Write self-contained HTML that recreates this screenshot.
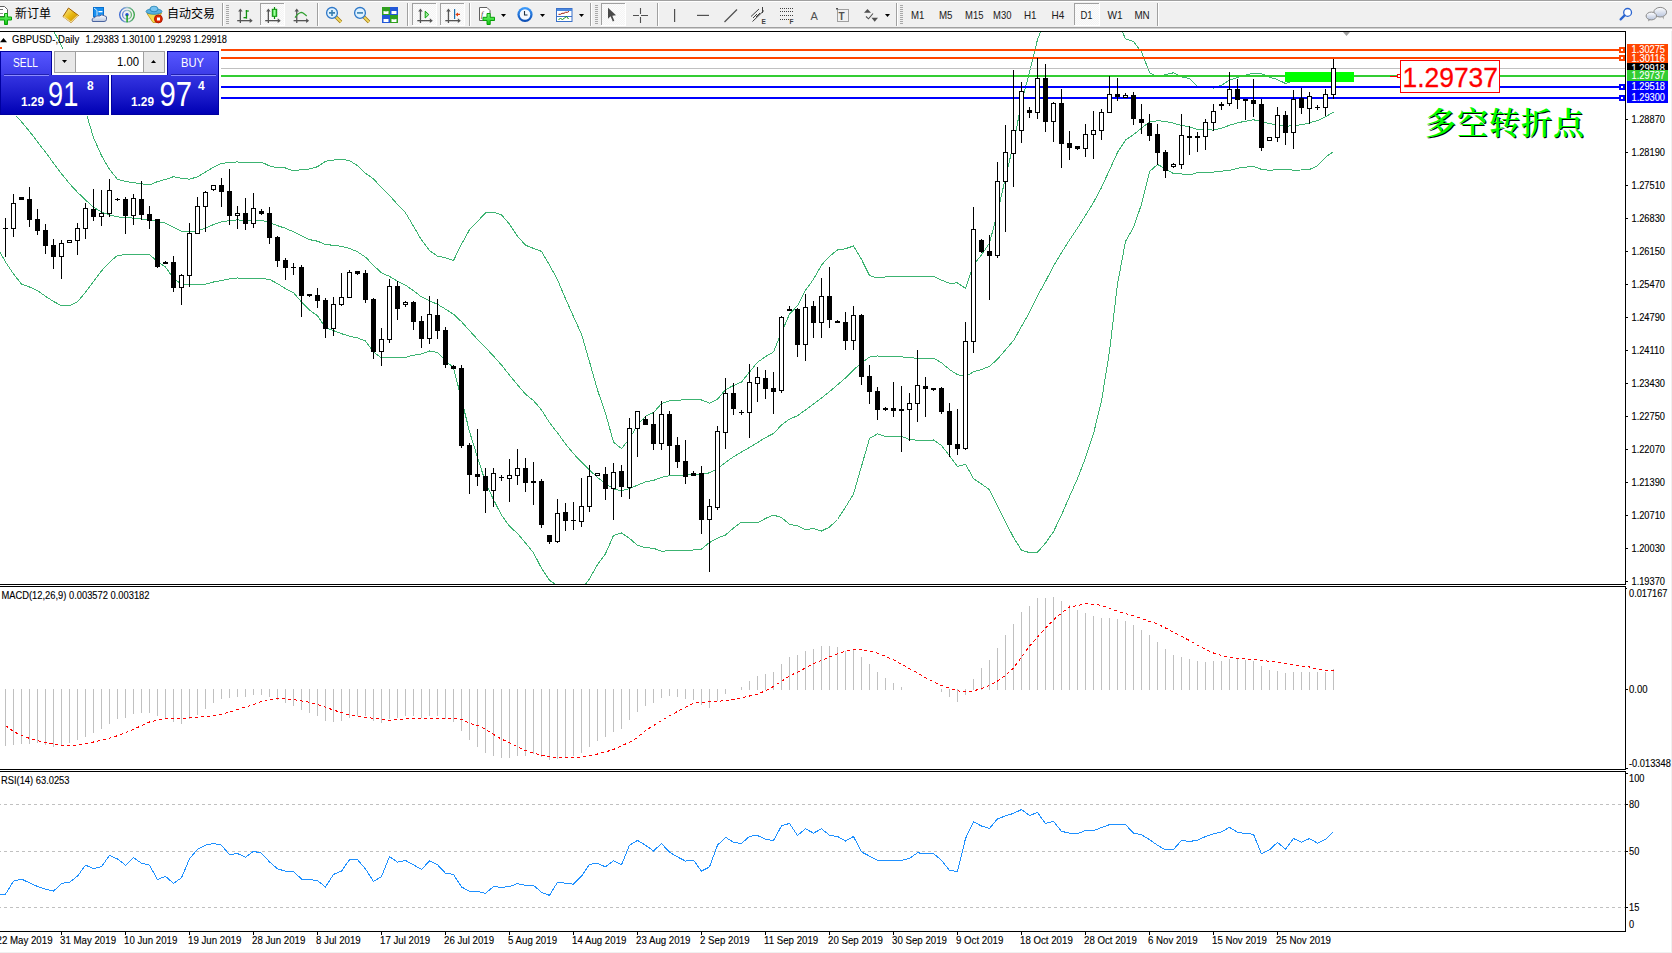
<!DOCTYPE html><html><head><meta charset="utf-8"><title>GBPUSD Daily</title><style>html,body{margin:0;padding:0;background:#fff;}body{width:1672px;height:953px;overflow:hidden;position:relative;}svg{position:absolute;left:0;top:0;display:block}</style></head><body>
<svg width="1672" height="953" viewBox="0 0 1672 953">
<defs>
<clipPath id="cmain"><rect x="0" y="32" width="1625" height="552"/></clipPath>
<clipPath id="cmacd"><rect x="0" y="587" width="1625" height="182"/></clipPath>
<clipPath id="crsi"><rect x="0" y="772" width="1625" height="159"/></clipPath>
</defs>
<rect width="1672" height="953" fill="#ffffff"/>
<g clip-path="url(#cmain)">
<polyline points="-2.5,-86.0 5.5,-70.0 13.5,-54.0 21.5,-38.0 29.5,-22.0 37.5,-6.0 45.5,10.0 53.5,31.0 61.5,45.6 69.5,66.4 77.5,88.7 85.5,111.0 93.5,137.5 101.5,155.7 109.5,169.3 117.5,179.5 125.5,181.4 133.5,182.7 141.5,183.8 149.5,185.0 157.5,181.6 165.5,179.4 173.5,176.7 181.5,178.2 189.5,179.2 197.5,176.8 205.5,172.1 213.5,167.1 221.5,163.3 229.5,162.6 237.5,161.9 245.5,162.9 253.5,162.2 261.5,162.2 269.5,165.9 277.5,167.8 285.5,168.0 293.5,170.8 301.5,169.6 309.5,169.0 317.5,166.7 325.5,161.3 333.5,160.1 341.5,159.2 349.5,160.6 357.5,165.6 365.5,173.2 373.5,178.9 381.5,187.7 389.5,195.4 397.5,204.5 405.5,212.8 413.5,226.2 421.5,240.0 429.5,250.6 437.5,256.2 445.5,257.7 453.5,260.5 461.5,244.2 469.5,229.7 477.5,221.5 485.5,212.8 493.5,212.3 501.5,214.8 509.5,224.1 517.5,236.3 525.5,245.2 533.5,248.4 541.5,251.4 549.5,265.0 557.5,279.8 565.5,298.7 573.5,316.6 581.5,334.1 589.5,361.7 597.5,390.0 605.5,413.3 613.5,442.1 621.5,448.6 629.5,438.6 637.5,425.1 645.5,416.2 653.5,412.6 661.5,403.5 669.5,400.7 677.5,400.1 685.5,399.9 693.5,399.6 701.5,400.0 709.5,403.1 717.5,399.3 725.5,389.7 733.5,385.5 741.5,382.0 749.5,372.0 757.5,362.2 765.5,356.7 773.5,351.9 781.5,332.6 789.5,314.0 797.5,305.7 805.5,290.2 813.5,279.3 821.5,265.0 829.5,256.3 837.5,250.0 845.5,248.7 853.5,246.0 861.5,259.3 869.5,275.6 877.5,278.0 885.5,277.0 893.5,276.8 901.5,277.0 909.5,276.2 917.5,276.1 925.5,276.1 933.5,276.2 941.5,280.1 949.5,283.3 957.5,282.9 965.5,288.5 973.5,265.0 981.5,254.9 989.5,243.0 997.5,212.7 1005.5,177.7 1013.5,143.8 1021.5,102.5 1029.5,72.2 1037.5,39.5 1045.5,19.8 1053.5,0.5 1061.5,-9.4 1069.5,-16.6 1077.5,-22.4 1085.5,-27.0 1093.5,-28.9 1101.5,-25.9 1109.5,-11.4 1117.5,20.8 1125.5,38.8 1133.5,41.6 1141.5,51.9 1149.5,72.6 1157.5,76.8 1165.5,74.5 1173.5,72.8 1181.5,77.0 1189.5,78.4 1197.5,86.7 1205.5,86.8 1213.5,88.1 1221.5,85.3 1229.5,80.1 1237.5,77.5 1245.5,75.1 1253.5,73.2 1261.5,73.7 1269.5,77.1 1277.5,79.6 1285.5,83.5 1293.5,81.0 1301.5,79.6 1309.5,76.2 1317.5,75.5 1325.5,76.4 1333.5,72.4" fill="none" stroke="#3cb371" stroke-width="1" shape-rendering="crispEdges"/>
<polyline points="-2.5,97.0 5.5,105.0 13.5,113.1 21.5,121.8 29.5,131.4 37.5,141.7 45.5,152.3 53.5,163.0 61.5,173.7 69.5,183.6 77.5,192.3 85.5,200.0 93.5,207.2 101.5,212.0 109.5,214.9 117.5,216.9 125.5,217.5 133.5,218.1 141.5,219.1 149.5,220.1 157.5,221.5 165.5,223.2 173.5,227.4 181.5,231.2 189.5,231.9 197.5,230.8 205.5,228.1 213.5,224.6 221.5,221.9 229.5,220.7 237.5,219.9 245.5,220.7 253.5,220.3 261.5,220.3 269.5,222.7 277.5,225.7 285.5,228.3 293.5,231.8 301.5,235.8 309.5,239.6 317.5,241.2 325.5,244.5 333.5,245.3 341.5,246.4 349.5,248.4 357.5,251.8 365.5,257.1 373.5,265.4 381.5,272.8 389.5,276.4 397.5,281.1 405.5,285.1 413.5,290.7 421.5,296.9 429.5,300.8 437.5,304.3 445.5,309.1 453.5,314.2 461.5,321.7 469.5,330.6 477.5,339.4 485.5,347.6 493.5,356.0 501.5,365.0 509.5,375.1 517.5,384.9 525.5,394.1 533.5,400.6 541.5,409.9 549.5,422.6 557.5,432.9 565.5,443.8 573.5,453.7 581.5,462.1 589.5,470.2 597.5,477.4 605.5,483.6 613.5,488.8 621.5,490.8 629.5,488.5 637.5,485.2 645.5,481.9 653.5,480.4 661.5,477.3 669.5,475.8 677.5,475.4 685.5,475.1 693.5,474.8 701.5,474.6 709.5,472.8 717.5,468.7 725.5,462.4 733.5,456.8 741.5,452.1 749.5,447.4 757.5,442.6 765.5,437.6 773.5,433.5 781.5,425.1 789.5,419.1 797.5,415.8 805.5,409.9 813.5,403.9 821.5,398.0 829.5,391.7 837.5,384.8 845.5,377.9 853.5,369.9 861.5,362.8 869.5,357.1 877.5,355.9 885.5,356.8 893.5,356.9 901.5,356.8 909.5,357.8 917.5,358.2 925.5,358.2 933.5,358.1 941.5,362.8 949.5,369.5 957.5,374.7 965.5,376.4 973.5,371.8 981.5,369.5 989.5,366.3 997.5,359.2 1005.5,349.9 1013.5,340.6 1021.5,326.4 1029.5,312.4 1037.5,295.9 1045.5,281.4 1053.5,266.1 1061.5,252.8 1069.5,239.9 1077.5,228.1 1085.5,215.4 1093.5,202.4 1101.5,187.5 1109.5,170.0 1117.5,152.4 1125.5,140.1 1133.5,134.6 1141.5,128.1 1149.5,122.1 1157.5,120.7 1165.5,121.5 1173.5,123.2 1181.5,125.5 1189.5,126.7 1197.5,129.7 1205.5,129.7 1213.5,130.1 1221.5,128.2 1229.5,125.3 1237.5,122.8 1245.5,121.2 1253.5,119.8 1261.5,121.5 1269.5,123.7 1277.5,124.7 1285.5,126.5 1293.5,125.5 1301.5,124.8 1309.5,122.8 1317.5,120.6 1325.5,116.8 1333.5,112.0" fill="none" stroke="#3cb371" stroke-width="1" shape-rendering="crispEdges"/>
<polyline points="-2.5,247.9 5.5,261.9 13.5,273.9 21.5,284.0 29.5,287.0 37.5,290.5 45.5,296.3 53.5,301.4 61.5,305.7 69.5,305.7 77.5,301.8 85.5,292.2 93.5,281.6 101.5,270.9 109.5,262.2 117.5,255.4 125.5,254.7 133.5,254.7 141.5,254.7 149.5,254.7 157.5,261.4 165.5,267.1 173.5,278.2 181.5,284.3 189.5,284.7 197.5,284.7 205.5,284.1 213.5,282.0 221.5,280.6 229.5,278.8 237.5,278.0 245.5,278.5 253.5,278.4 261.5,278.4 269.5,279.4 277.5,283.6 285.5,288.6 293.5,292.7 301.5,302.0 309.5,310.1 317.5,315.8 325.5,327.7 333.5,330.6 341.5,333.7 349.5,336.2 357.5,337.9 365.5,341.0 373.5,351.9 381.5,357.9 389.5,357.3 397.5,357.7 405.5,357.3 413.5,355.2 421.5,353.9 429.5,351.0 437.5,352.4 445.5,360.6 453.5,367.9 461.5,399.2 469.5,431.6 477.5,457.4 485.5,482.3 493.5,499.7 501.5,515.2 509.5,526.2 517.5,533.5 525.5,542.9 533.5,552.8 541.5,568.3 549.5,580.2 557.5,585.9 565.5,588.8 573.5,590.8 581.5,590.1 589.5,578.7 597.5,564.7 605.5,553.8 613.5,535.4 621.5,533.0 629.5,538.4 637.5,545.4 645.5,547.7 653.5,548.3 661.5,551.1 669.5,550.9 677.5,550.8 685.5,550.4 693.5,550.0 701.5,549.1 709.5,542.5 717.5,538.1 725.5,535.0 733.5,528.0 741.5,522.1 749.5,522.7 757.5,522.9 765.5,518.4 773.5,515.1 781.5,517.5 789.5,524.3 797.5,525.9 805.5,529.7 813.5,528.5 821.5,531.0 829.5,527.1 837.5,519.5 845.5,507.2 853.5,493.9 861.5,466.3 869.5,438.5 877.5,433.9 885.5,436.5 893.5,436.9 901.5,436.5 909.5,439.4 917.5,440.3 925.5,440.3 933.5,440.0 941.5,445.5 949.5,455.7 957.5,466.5 965.5,464.3 973.5,478.5 981.5,484.1 989.5,489.6 997.5,505.8 1005.5,522.0 1013.5,537.4 1021.5,550.2 1029.5,552.6 1037.5,552.2 1045.5,543.1 1053.5,531.7 1061.5,514.9 1069.5,496.5 1077.5,478.6 1085.5,457.8 1093.5,433.8 1101.5,400.9 1109.5,351.4 1117.5,284.0 1125.5,241.4 1133.5,227.5 1141.5,204.3 1149.5,171.6 1157.5,164.5 1165.5,168.6 1173.5,173.7 1181.5,173.9 1189.5,175.0 1197.5,172.6 1205.5,172.6 1213.5,172.1 1221.5,171.1 1229.5,170.5 1237.5,168.2 1245.5,167.2 1253.5,166.4 1261.5,169.4 1269.5,170.3 1277.5,169.7 1285.5,169.5 1293.5,170.1 1301.5,170.0 1309.5,169.5 1317.5,165.7 1325.5,157.2 1333.5,151.6" fill="none" stroke="#3cb371" stroke-width="1" shape-rendering="crispEdges"/>
</g>
<g shape-rendering="crispEdges">
<rect x="221" y="49" width="1404" height="2" fill="#ff4500"/>
<rect x="221" y="57" width="1404" height="2" fill="#ff4500"/>
<rect x="221" y="68" width="1404" height="1" fill="#c0c0c0"/>
<rect x="221" y="75" width="1404" height="2" fill="#32cd32"/>
<rect x="221" y="86" width="1404" height="2" fill="#0000ff"/>
<rect x="221" y="97" width="1404" height="2" fill="#0000ff"/>
<rect x="1619" y="47" width="6" height="6" fill="#ff4500"/><rect x="1621" y="49" width="2" height="2" fill="#fff"/>
<rect x="1619" y="55" width="6" height="6" fill="#ff4500"/><rect x="1621" y="57" width="2" height="2" fill="#fff"/>
<rect x="1619" y="84" width="6" height="6" fill="#0000ff"/><rect x="1621" y="86" width="2" height="2" fill="#fff"/>
<rect x="1619" y="95" width="6" height="6" fill="#0000ff"/><rect x="1621" y="97" width="2" height="2" fill="#fff"/>
<rect x="1285" y="72" width="69" height="10" fill="#00ff00"/>
</g>
<g clip-path="url(#cmain)">
<g shape-rendering="crispEdges">
<rect x="5" y="218" width="1" height="39" fill="#000"/>
<rect x="3" y="228" width="5" height="1" fill="#000"/>
<rect x="13" y="194" width="1" height="43" fill="#000"/>
<rect x="11" y="203" width="5" height="26" fill="#000"/>
<rect x="12" y="204" width="3" height="24" fill="#fff"/>
<rect x="21" y="197" width="1" height="3" fill="#000"/>
<rect x="19" y="197" width="5" height="3" fill="#000"/>
<rect x="29" y="187" width="1" height="40" fill="#000"/>
<rect x="27" y="199" width="5" height="21" fill="#000"/>
<rect x="37" y="209" width="1" height="26" fill="#000"/>
<rect x="35" y="219" width="5" height="12" fill="#000"/>
<rect x="45" y="224" width="1" height="30" fill="#000"/>
<rect x="43" y="230" width="5" height="16" fill="#000"/>
<rect x="53" y="239" width="1" height="30" fill="#000"/>
<rect x="51" y="245" width="5" height="12" fill="#000"/>
<rect x="61" y="240" width="1" height="39" fill="#000"/>
<rect x="59" y="243" width="5" height="14" fill="#000"/>
<rect x="60" y="244" width="3" height="12" fill="#fff"/>
<rect x="69" y="240" width="1" height="3" fill="#000"/>
<rect x="67" y="240" width="5" height="3" fill="#000"/>
<rect x="68" y="241" width="3" height="1" fill="#fff"/>
<rect x="77" y="223" width="1" height="32" fill="#000"/>
<rect x="75" y="228" width="5" height="13" fill="#000"/>
<rect x="76" y="229" width="3" height="11" fill="#fff"/>
<rect x="85" y="203" width="1" height="36" fill="#000"/>
<rect x="83" y="208" width="5" height="21" fill="#000"/>
<rect x="84" y="209" width="3" height="19" fill="#fff"/>
<rect x="93" y="189" width="1" height="32" fill="#000"/>
<rect x="91" y="209" width="5" height="8" fill="#000"/>
<rect x="101" y="190" width="1" height="36" fill="#000"/>
<rect x="99" y="213" width="5" height="4" fill="#000"/>
<rect x="100" y="214" width="3" height="2" fill="#fff"/>
<rect x="109" y="179" width="1" height="38" fill="#000"/>
<rect x="107" y="190" width="5" height="24" fill="#000"/>
<rect x="108" y="191" width="3" height="22" fill="#fff"/>
<rect x="117" y="198" width="1" height="3" fill="#000"/>
<rect x="115" y="199" width="5" height="1" fill="#000"/>
<rect x="125" y="197" width="1" height="37" fill="#000"/>
<rect x="123" y="199" width="5" height="17" fill="#000"/>
<rect x="133" y="194" width="1" height="31" fill="#000"/>
<rect x="131" y="198" width="5" height="18" fill="#000"/>
<rect x="132" y="199" width="3" height="16" fill="#fff"/>
<rect x="141" y="181" width="1" height="39" fill="#000"/>
<rect x="139" y="199" width="5" height="16" fill="#000"/>
<rect x="149" y="206" width="1" height="23" fill="#000"/>
<rect x="147" y="214" width="5" height="7" fill="#000"/>
<rect x="157" y="219" width="1" height="49" fill="#000"/>
<rect x="155" y="219" width="5" height="48" fill="#000"/>
<rect x="165" y="261" width="1" height="3" fill="#000"/>
<rect x="163" y="262" width="5" height="2" fill="#000"/>
<rect x="173" y="256" width="1" height="36" fill="#000"/>
<rect x="171" y="262" width="5" height="26" fill="#000"/>
<rect x="181" y="274" width="1" height="31" fill="#000"/>
<rect x="179" y="275" width="5" height="13" fill="#000"/>
<rect x="180" y="276" width="3" height="11" fill="#fff"/>
<rect x="189" y="223" width="1" height="64" fill="#000"/>
<rect x="187" y="233" width="5" height="43" fill="#000"/>
<rect x="188" y="234" width="3" height="41" fill="#fff"/>
<rect x="197" y="197" width="1" height="37" fill="#000"/>
<rect x="195" y="206" width="5" height="28" fill="#000"/>
<rect x="196" y="207" width="3" height="26" fill="#fff"/>
<rect x="205" y="191" width="1" height="41" fill="#000"/>
<rect x="203" y="192" width="5" height="15" fill="#000"/>
<rect x="204" y="193" width="3" height="13" fill="#fff"/>
<rect x="213" y="185" width="1" height="6" fill="#000"/>
<rect x="211" y="185" width="5" height="5" fill="#000"/>
<rect x="212" y="186" width="3" height="3" fill="#fff"/>
<rect x="221" y="178" width="1" height="29" fill="#000"/>
<rect x="219" y="185" width="5" height="7" fill="#000"/>
<rect x="229" y="169" width="1" height="56" fill="#000"/>
<rect x="227" y="191" width="5" height="25" fill="#000"/>
<rect x="237" y="206" width="1" height="23" fill="#000"/>
<rect x="235" y="213" width="5" height="3" fill="#000"/>
<rect x="236" y="214" width="3" height="1" fill="#fff"/>
<rect x="245" y="198" width="1" height="32" fill="#000"/>
<rect x="243" y="213" width="5" height="11" fill="#000"/>
<rect x="253" y="193" width="1" height="35" fill="#000"/>
<rect x="251" y="208" width="5" height="16" fill="#000"/>
<rect x="252" y="209" width="3" height="14" fill="#fff"/>
<rect x="261" y="209" width="1" height="6" fill="#000"/>
<rect x="259" y="211" width="5" height="3" fill="#000"/>
<rect x="269" y="207" width="1" height="37" fill="#000"/>
<rect x="267" y="213" width="5" height="25" fill="#000"/>
<rect x="277" y="236" width="1" height="31" fill="#000"/>
<rect x="275" y="237" width="5" height="24" fill="#000"/>
<rect x="285" y="258" width="1" height="22" fill="#000"/>
<rect x="283" y="260" width="5" height="8" fill="#000"/>
<rect x="293" y="263" width="1" height="12" fill="#000"/>
<rect x="291" y="267" width="5" height="1" fill="#000"/>
<rect x="301" y="265" width="1" height="52" fill="#000"/>
<rect x="299" y="267" width="5" height="29" fill="#000"/>
<rect x="309" y="294" width="1" height="3" fill="#000"/>
<rect x="307" y="294" width="5" height="2" fill="#000"/>
<rect x="317" y="288" width="1" height="20" fill="#000"/>
<rect x="315" y="295" width="5" height="6" fill="#000"/>
<rect x="325" y="298" width="1" height="40" fill="#000"/>
<rect x="323" y="300" width="5" height="29" fill="#000"/>
<rect x="333" y="297" width="1" height="39" fill="#000"/>
<rect x="331" y="304" width="5" height="25" fill="#000"/>
<rect x="332" y="305" width="3" height="23" fill="#fff"/>
<rect x="341" y="273" width="1" height="33" fill="#000"/>
<rect x="339" y="297" width="5" height="8" fill="#000"/>
<rect x="340" y="298" width="3" height="6" fill="#fff"/>
<rect x="349" y="270" width="1" height="28" fill="#000"/>
<rect x="347" y="272" width="5" height="26" fill="#000"/>
<rect x="348" y="273" width="3" height="24" fill="#fff"/>
<rect x="357" y="271" width="1" height="4" fill="#000"/>
<rect x="355" y="271" width="5" height="3" fill="#000"/>
<rect x="365" y="270" width="1" height="33" fill="#000"/>
<rect x="363" y="273" width="5" height="27" fill="#000"/>
<rect x="373" y="298" width="1" height="61" fill="#000"/>
<rect x="371" y="299" width="5" height="53" fill="#000"/>
<rect x="381" y="328" width="1" height="38" fill="#000"/>
<rect x="379" y="339" width="5" height="13" fill="#000"/>
<rect x="380" y="340" width="3" height="11" fill="#fff"/>
<rect x="389" y="279" width="1" height="64" fill="#000"/>
<rect x="387" y="286" width="5" height="54" fill="#000"/>
<rect x="388" y="287" width="3" height="52" fill="#fff"/>
<rect x="397" y="281" width="1" height="39" fill="#000"/>
<rect x="395" y="286" width="5" height="23" fill="#000"/>
<rect x="405" y="301" width="1" height="6" fill="#000"/>
<rect x="403" y="302" width="5" height="3" fill="#000"/>
<rect x="404" y="303" width="3" height="1" fill="#fff"/>
<rect x="413" y="301" width="1" height="29" fill="#000"/>
<rect x="411" y="302" width="5" height="20" fill="#000"/>
<rect x="421" y="316" width="1" height="32" fill="#000"/>
<rect x="419" y="321" width="5" height="18" fill="#000"/>
<rect x="429" y="296" width="1" height="48" fill="#000"/>
<rect x="427" y="314" width="5" height="25" fill="#000"/>
<rect x="428" y="315" width="3" height="23" fill="#fff"/>
<rect x="437" y="299" width="1" height="40" fill="#000"/>
<rect x="435" y="315" width="5" height="16" fill="#000"/>
<rect x="445" y="327" width="1" height="41" fill="#000"/>
<rect x="443" y="330" width="5" height="35" fill="#000"/>
<rect x="453" y="365" width="1" height="4" fill="#000"/>
<rect x="451" y="366" width="5" height="3" fill="#000"/>
<rect x="461" y="365" width="1" height="83" fill="#000"/>
<rect x="459" y="368" width="5" height="78" fill="#000"/>
<rect x="469" y="443" width="1" height="51" fill="#000"/>
<rect x="467" y="445" width="5" height="30" fill="#000"/>
<rect x="477" y="429" width="1" height="57" fill="#000"/>
<rect x="475" y="474" width="5" height="3" fill="#000"/>
<rect x="485" y="468" width="1" height="45" fill="#000"/>
<rect x="483" y="476" width="5" height="15" fill="#000"/>
<rect x="493" y="468" width="1" height="39" fill="#000"/>
<rect x="491" y="473" width="5" height="18" fill="#000"/>
<rect x="492" y="474" width="3" height="16" fill="#fff"/>
<rect x="501" y="475" width="1" height="6" fill="#000"/>
<rect x="499" y="477" width="5" height="1" fill="#000"/>
<rect x="509" y="459" width="1" height="43" fill="#000"/>
<rect x="507" y="475" width="5" height="4" fill="#000"/>
<rect x="508" y="476" width="3" height="2" fill="#fff"/>
<rect x="517" y="449" width="1" height="36" fill="#000"/>
<rect x="515" y="468" width="5" height="8" fill="#000"/>
<rect x="516" y="469" width="3" height="6" fill="#fff"/>
<rect x="525" y="458" width="1" height="34" fill="#000"/>
<rect x="523" y="468" width="5" height="15" fill="#000"/>
<rect x="533" y="462" width="1" height="43" fill="#000"/>
<rect x="531" y="481" width="5" height="2" fill="#000"/>
<rect x="541" y="479" width="1" height="49" fill="#000"/>
<rect x="539" y="481" width="5" height="44" fill="#000"/>
<rect x="549" y="535" width="1" height="9" fill="#000"/>
<rect x="547" y="535" width="5" height="7" fill="#000"/>
<rect x="557" y="499" width="1" height="44" fill="#000"/>
<rect x="555" y="513" width="5" height="29" fill="#000"/>
<rect x="556" y="514" width="3" height="27" fill="#fff"/>
<rect x="565" y="503" width="1" height="28" fill="#000"/>
<rect x="563" y="512" width="5" height="9" fill="#000"/>
<rect x="573" y="502" width="1" height="28" fill="#000"/>
<rect x="571" y="520" width="5" height="1" fill="#000"/>
<rect x="581" y="478" width="1" height="49" fill="#000"/>
<rect x="579" y="506" width="5" height="16" fill="#000"/>
<rect x="580" y="507" width="3" height="14" fill="#fff"/>
<rect x="589" y="465" width="1" height="47" fill="#000"/>
<rect x="587" y="476" width="5" height="31" fill="#000"/>
<rect x="588" y="477" width="3" height="29" fill="#fff"/>
<rect x="597" y="473" width="1" height="3" fill="#000"/>
<rect x="595" y="473" width="5" height="3" fill="#000"/>
<rect x="596" y="474" width="3" height="1" fill="#fff"/>
<rect x="605" y="467" width="1" height="33" fill="#000"/>
<rect x="603" y="474" width="5" height="15" fill="#000"/>
<rect x="613" y="463" width="1" height="57" fill="#000"/>
<rect x="611" y="472" width="5" height="17" fill="#000"/>
<rect x="612" y="473" width="3" height="15" fill="#fff"/>
<rect x="621" y="465" width="1" height="32" fill="#000"/>
<rect x="619" y="471" width="5" height="16" fill="#000"/>
<rect x="629" y="418" width="1" height="81" fill="#000"/>
<rect x="627" y="428" width="5" height="60" fill="#000"/>
<rect x="628" y="429" width="3" height="58" fill="#fff"/>
<rect x="637" y="411" width="1" height="46" fill="#000"/>
<rect x="635" y="411" width="5" height="18" fill="#000"/>
<rect x="636" y="412" width="3" height="16" fill="#fff"/>
<rect x="645" y="416" width="1" height="9" fill="#000"/>
<rect x="643" y="419" width="5" height="6" fill="#000"/>
<rect x="653" y="412" width="1" height="38" fill="#000"/>
<rect x="651" y="424" width="5" height="20" fill="#000"/>
<rect x="661" y="401" width="1" height="49" fill="#000"/>
<rect x="659" y="414" width="5" height="30" fill="#000"/>
<rect x="660" y="415" width="3" height="28" fill="#fff"/>
<rect x="669" y="411" width="1" height="64" fill="#000"/>
<rect x="667" y="414" width="5" height="32" fill="#000"/>
<rect x="677" y="437" width="1" height="31" fill="#000"/>
<rect x="675" y="445" width="5" height="17" fill="#000"/>
<rect x="685" y="440" width="1" height="44" fill="#000"/>
<rect x="683" y="461" width="5" height="16" fill="#000"/>
<rect x="693" y="471" width="1" height="5" fill="#000"/>
<rect x="691" y="473" width="5" height="3" fill="#000"/>
<rect x="701" y="466" width="1" height="68" fill="#000"/>
<rect x="699" y="473" width="5" height="47" fill="#000"/>
<rect x="709" y="499" width="1" height="73" fill="#000"/>
<rect x="707" y="506" width="5" height="14" fill="#000"/>
<rect x="708" y="507" width="3" height="12" fill="#fff"/>
<rect x="717" y="426" width="1" height="84" fill="#000"/>
<rect x="715" y="431" width="5" height="77" fill="#000"/>
<rect x="716" y="432" width="3" height="75" fill="#fff"/>
<rect x="725" y="378" width="1" height="71" fill="#000"/>
<rect x="723" y="393" width="5" height="40" fill="#000"/>
<rect x="724" y="394" width="3" height="38" fill="#fff"/>
<rect x="733" y="383" width="1" height="32" fill="#000"/>
<rect x="731" y="393" width="5" height="16" fill="#000"/>
<rect x="741" y="410" width="1" height="5" fill="#000"/>
<rect x="739" y="412" width="5" height="1" fill="#000"/>
<rect x="749" y="364" width="1" height="74" fill="#000"/>
<rect x="747" y="382" width="5" height="31" fill="#000"/>
<rect x="748" y="383" width="3" height="29" fill="#fff"/>
<rect x="757" y="367" width="1" height="35" fill="#000"/>
<rect x="755" y="377" width="5" height="7" fill="#000"/>
<rect x="756" y="378" width="3" height="5" fill="#fff"/>
<rect x="765" y="370" width="1" height="29" fill="#000"/>
<rect x="763" y="378" width="5" height="11" fill="#000"/>
<rect x="773" y="372" width="1" height="42" fill="#000"/>
<rect x="771" y="388" width="5" height="4" fill="#000"/>
<rect x="781" y="316" width="1" height="77" fill="#000"/>
<rect x="779" y="317" width="5" height="74" fill="#000"/>
<rect x="780" y="318" width="3" height="72" fill="#fff"/>
<rect x="789" y="306" width="1" height="5" fill="#000"/>
<rect x="787" y="309" width="5" height="2" fill="#000"/>
<rect x="797" y="308" width="1" height="49" fill="#000"/>
<rect x="795" y="309" width="5" height="36" fill="#000"/>
<rect x="805" y="294" width="1" height="67" fill="#000"/>
<rect x="803" y="307" width="5" height="38" fill="#000"/>
<rect x="804" y="308" width="3" height="36" fill="#fff"/>
<rect x="813" y="301" width="1" height="37" fill="#000"/>
<rect x="811" y="306" width="5" height="17" fill="#000"/>
<rect x="821" y="278" width="1" height="60" fill="#000"/>
<rect x="819" y="296" width="5" height="27" fill="#000"/>
<rect x="820" y="297" width="3" height="25" fill="#fff"/>
<rect x="829" y="267" width="1" height="61" fill="#000"/>
<rect x="827" y="296" width="5" height="24" fill="#000"/>
<rect x="837" y="320" width="1" height="3" fill="#000"/>
<rect x="835" y="321" width="5" height="2" fill="#000"/>
<rect x="845" y="312" width="1" height="38" fill="#000"/>
<rect x="843" y="322" width="5" height="19" fill="#000"/>
<rect x="853" y="306" width="1" height="44" fill="#000"/>
<rect x="851" y="315" width="5" height="26" fill="#000"/>
<rect x="852" y="316" width="3" height="24" fill="#fff"/>
<rect x="861" y="314" width="1" height="71" fill="#000"/>
<rect x="859" y="315" width="5" height="62" fill="#000"/>
<rect x="869" y="365" width="1" height="39" fill="#000"/>
<rect x="867" y="376" width="5" height="16" fill="#000"/>
<rect x="877" y="387" width="1" height="33" fill="#000"/>
<rect x="875" y="391" width="5" height="19" fill="#000"/>
<rect x="885" y="407" width="1" height="4" fill="#000"/>
<rect x="883" y="408" width="5" height="2" fill="#000"/>
<rect x="893" y="382" width="1" height="35" fill="#000"/>
<rect x="891" y="408" width="5" height="3" fill="#000"/>
<rect x="901" y="386" width="1" height="66" fill="#000"/>
<rect x="899" y="409" width="5" height="2" fill="#000"/>
<rect x="909" y="393" width="1" height="48" fill="#000"/>
<rect x="907" y="403" width="5" height="7" fill="#000"/>
<rect x="908" y="404" width="3" height="5" fill="#fff"/>
<rect x="917" y="350" width="1" height="72" fill="#000"/>
<rect x="915" y="385" width="5" height="19" fill="#000"/>
<rect x="916" y="386" width="3" height="17" fill="#fff"/>
<rect x="925" y="377" width="1" height="40" fill="#000"/>
<rect x="923" y="386" width="5" height="3" fill="#000"/>
<rect x="933" y="388" width="1" height="3" fill="#000"/>
<rect x="931" y="388" width="5" height="2" fill="#000"/>
<rect x="941" y="387" width="1" height="27" fill="#000"/>
<rect x="939" y="388" width="5" height="24" fill="#000"/>
<rect x="949" y="403" width="1" height="54" fill="#000"/>
<rect x="947" y="411" width="5" height="34" fill="#000"/>
<rect x="957" y="409" width="1" height="46" fill="#000"/>
<rect x="955" y="444" width="5" height="5" fill="#000"/>
<rect x="965" y="322" width="1" height="128" fill="#000"/>
<rect x="963" y="341" width="5" height="108" fill="#000"/>
<rect x="964" y="342" width="3" height="106" fill="#fff"/>
<rect x="973" y="207" width="1" height="146" fill="#000"/>
<rect x="971" y="229" width="5" height="113" fill="#000"/>
<rect x="972" y="230" width="3" height="111" fill="#fff"/>
<rect x="981" y="239" width="1" height="14" fill="#000"/>
<rect x="979" y="240" width="5" height="12" fill="#000"/>
<rect x="989" y="235" width="1" height="65" fill="#000"/>
<rect x="987" y="251" width="5" height="5" fill="#000"/>
<rect x="997" y="162" width="1" height="96" fill="#000"/>
<rect x="995" y="181" width="5" height="75" fill="#000"/>
<rect x="996" y="182" width="3" height="73" fill="#fff"/>
<rect x="1005" y="125" width="1" height="107" fill="#000"/>
<rect x="1003" y="152" width="5" height="30" fill="#000"/>
<rect x="1004" y="153" width="3" height="28" fill="#fff"/>
<rect x="1013" y="70" width="1" height="117" fill="#000"/>
<rect x="1011" y="130" width="5" height="24" fill="#000"/>
<rect x="1012" y="131" width="3" height="22" fill="#fff"/>
<rect x="1021" y="82" width="1" height="61" fill="#000"/>
<rect x="1019" y="91" width="5" height="40" fill="#000"/>
<rect x="1020" y="92" width="3" height="38" fill="#fff"/>
<rect x="1029" y="107" width="1" height="11" fill="#000"/>
<rect x="1027" y="110" width="5" height="3" fill="#000"/>
<rect x="1037" y="58" width="1" height="61" fill="#000"/>
<rect x="1035" y="78" width="5" height="35" fill="#000"/>
<rect x="1036" y="79" width="3" height="33" fill="#fff"/>
<rect x="1045" y="64" width="1" height="68" fill="#000"/>
<rect x="1043" y="78" width="5" height="44" fill="#000"/>
<rect x="1053" y="102" width="1" height="40" fill="#000"/>
<rect x="1051" y="103" width="5" height="19" fill="#000"/>
<rect x="1052" y="104" width="3" height="17" fill="#fff"/>
<rect x="1061" y="89" width="1" height="79" fill="#000"/>
<rect x="1059" y="103" width="5" height="41" fill="#000"/>
<rect x="1069" y="131" width="1" height="29" fill="#000"/>
<rect x="1067" y="143" width="5" height="5" fill="#000"/>
<rect x="1077" y="146" width="1" height="4" fill="#000"/>
<rect x="1075" y="146" width="5" height="3" fill="#000"/>
<rect x="1085" y="124" width="1" height="33" fill="#000"/>
<rect x="1083" y="134" width="5" height="15" fill="#000"/>
<rect x="1084" y="135" width="3" height="13" fill="#fff"/>
<rect x="1093" y="111" width="1" height="48" fill="#000"/>
<rect x="1091" y="130" width="5" height="5" fill="#000"/>
<rect x="1092" y="131" width="3" height="3" fill="#fff"/>
<rect x="1101" y="109" width="1" height="31" fill="#000"/>
<rect x="1099" y="112" width="5" height="19" fill="#000"/>
<rect x="1100" y="113" width="3" height="17" fill="#fff"/>
<rect x="1109" y="76" width="1" height="37" fill="#000"/>
<rect x="1107" y="94" width="5" height="19" fill="#000"/>
<rect x="1108" y="95" width="3" height="17" fill="#fff"/>
<rect x="1117" y="78" width="1" height="23" fill="#000"/>
<rect x="1115" y="94" width="5" height="3" fill="#000"/>
<rect x="1125" y="93" width="1" height="5" fill="#000"/>
<rect x="1123" y="95" width="5" height="3" fill="#000"/>
<rect x="1124" y="96" width="3" height="1" fill="#fff"/>
<rect x="1133" y="92" width="1" height="33" fill="#000"/>
<rect x="1131" y="95" width="5" height="24" fill="#000"/>
<rect x="1141" y="104" width="1" height="30" fill="#000"/>
<rect x="1139" y="119" width="5" height="4" fill="#000"/>
<rect x="1149" y="114" width="1" height="27" fill="#000"/>
<rect x="1147" y="123" width="5" height="13" fill="#000"/>
<rect x="1157" y="124" width="1" height="41" fill="#000"/>
<rect x="1155" y="134" width="5" height="19" fill="#000"/>
<rect x="1165" y="150" width="1" height="28" fill="#000"/>
<rect x="1163" y="152" width="5" height="19" fill="#000"/>
<rect x="1173" y="163" width="1" height="5" fill="#000"/>
<rect x="1171" y="164" width="5" height="3" fill="#000"/>
<rect x="1172" y="165" width="3" height="1" fill="#fff"/>
<rect x="1181" y="114" width="1" height="55" fill="#000"/>
<rect x="1179" y="135" width="5" height="30" fill="#000"/>
<rect x="1180" y="136" width="3" height="28" fill="#fff"/>
<rect x="1189" y="126" width="1" height="29" fill="#000"/>
<rect x="1187" y="136" width="5" height="2" fill="#000"/>
<rect x="1197" y="132" width="1" height="20" fill="#000"/>
<rect x="1195" y="136" width="5" height="2" fill="#000"/>
<rect x="1205" y="119" width="1" height="31" fill="#000"/>
<rect x="1203" y="122" width="5" height="15" fill="#000"/>
<rect x="1204" y="123" width="3" height="13" fill="#fff"/>
<rect x="1213" y="104" width="1" height="27" fill="#000"/>
<rect x="1211" y="111" width="5" height="12" fill="#000"/>
<rect x="1212" y="112" width="3" height="10" fill="#fff"/>
<rect x="1221" y="102" width="1" height="8" fill="#000"/>
<rect x="1219" y="104" width="5" height="2" fill="#000"/>
<rect x="1229" y="72" width="1" height="34" fill="#000"/>
<rect x="1227" y="89" width="5" height="15" fill="#000"/>
<rect x="1228" y="90" width="3" height="13" fill="#fff"/>
<rect x="1237" y="79" width="1" height="30" fill="#000"/>
<rect x="1235" y="89" width="5" height="11" fill="#000"/>
<rect x="1245" y="99" width="1" height="21" fill="#000"/>
<rect x="1243" y="99" width="5" height="2" fill="#000"/>
<rect x="1253" y="79" width="1" height="38" fill="#000"/>
<rect x="1251" y="100" width="5" height="4" fill="#000"/>
<rect x="1261" y="99" width="1" height="52" fill="#000"/>
<rect x="1259" y="104" width="5" height="44" fill="#000"/>
<rect x="1269" y="137" width="1" height="4" fill="#000"/>
<rect x="1267" y="137" width="5" height="4" fill="#000"/>
<rect x="1268" y="138" width="3" height="2" fill="#fff"/>
<rect x="1277" y="107" width="1" height="35" fill="#000"/>
<rect x="1275" y="115" width="5" height="23" fill="#000"/>
<rect x="1276" y="116" width="3" height="21" fill="#fff"/>
<rect x="1285" y="111" width="1" height="34" fill="#000"/>
<rect x="1283" y="115" width="5" height="18" fill="#000"/>
<rect x="1293" y="90" width="1" height="59" fill="#000"/>
<rect x="1291" y="99" width="5" height="34" fill="#000"/>
<rect x="1292" y="100" width="3" height="32" fill="#fff"/>
<rect x="1301" y="88" width="1" height="26" fill="#000"/>
<rect x="1299" y="98" width="5" height="10" fill="#000"/>
<rect x="1309" y="92" width="1" height="32" fill="#000"/>
<rect x="1307" y="96" width="5" height="13" fill="#000"/>
<rect x="1308" y="97" width="3" height="11" fill="#fff"/>
<rect x="1317" y="105" width="1" height="5" fill="#000"/>
<rect x="1315" y="107" width="5" height="1" fill="#000"/>
<rect x="1325" y="89" width="1" height="27" fill="#000"/>
<rect x="1323" y="94" width="5" height="14" fill="#000"/>
<rect x="1324" y="95" width="3" height="12" fill="#fff"/>
<rect x="1333" y="59" width="1" height="40" fill="#000"/>
<rect x="1331" y="68" width="5" height="27" fill="#000"/>
<rect x="1332" y="69" width="3" height="25" fill="#fff"/>
</g>
</g>
<g shape-rendering="crispEdges" fill="#000">
<rect x="0" y="31" width="1626" height="1"/>
<rect x="1625" y="31" width="1" height="554"/>
<rect x="0" y="584" width="1626" height="1"/>
<rect x="0" y="586" width="1626" height="1"/>
<rect x="1625" y="586" width="1" height="184"/>
<rect x="0" y="769" width="1626" height="1"/>
<rect x="0" y="771" width="1626" height="1"/>
<rect x="1625" y="771" width="1" height="161"/>
<rect x="0" y="931" width="1626" height="1"/>
</g>
<g font-family="Liberation Sans, Arial, sans-serif" font-size="10" fill="#000">
<rect x="1626" y="119" width="2" height="1" shape-rendering="crispEdges"/>
<text x="1631.5" y="123" font-family="Liberation Sans, Arial, sans-serif" font-size="10.2" fill="#000" stroke="#000" stroke-width="0.12" textLength="33.47" lengthAdjust="spacingAndGlyphs" >1.28870</text>
<rect x="1626" y="152" width="2" height="1" shape-rendering="crispEdges"/>
<text x="1631.5" y="156" font-family="Liberation Sans, Arial, sans-serif" font-size="10.2" fill="#000" stroke="#000" stroke-width="0.12" textLength="33.47" lengthAdjust="spacingAndGlyphs" >1.28190</text>
<rect x="1626" y="185" width="2" height="1" shape-rendering="crispEdges"/>
<text x="1631.5" y="189" font-family="Liberation Sans, Arial, sans-serif" font-size="10.2" fill="#000" stroke="#000" stroke-width="0.12" textLength="33.47" lengthAdjust="spacingAndGlyphs" >1.27510</text>
<rect x="1626" y="218" width="2" height="1" shape-rendering="crispEdges"/>
<text x="1631.5" y="222" font-family="Liberation Sans, Arial, sans-serif" font-size="10.2" fill="#000" stroke="#000" stroke-width="0.12" textLength="33.47" lengthAdjust="spacingAndGlyphs" >1.26830</text>
<rect x="1626" y="251" width="2" height="1" shape-rendering="crispEdges"/>
<text x="1631.5" y="255" font-family="Liberation Sans, Arial, sans-serif" font-size="10.2" fill="#000" stroke="#000" stroke-width="0.12" textLength="33.47" lengthAdjust="spacingAndGlyphs" >1.26150</text>
<rect x="1626" y="284" width="2" height="1" shape-rendering="crispEdges"/>
<text x="1631.5" y="288" font-family="Liberation Sans, Arial, sans-serif" font-size="10.2" fill="#000" stroke="#000" stroke-width="0.12" textLength="33.47" lengthAdjust="spacingAndGlyphs" >1.25470</text>
<rect x="1626" y="317" width="2" height="1" shape-rendering="crispEdges"/>
<text x="1631.5" y="321" font-family="Liberation Sans, Arial, sans-serif" font-size="10.2" fill="#000" stroke="#000" stroke-width="0.12" textLength="33.47" lengthAdjust="spacingAndGlyphs" >1.24790</text>
<rect x="1626" y="350" width="2" height="1" shape-rendering="crispEdges"/>
<text x="1631.5" y="354" font-family="Liberation Sans, Arial, sans-serif" font-size="10.2" fill="#000" stroke="#000" stroke-width="0.12" textLength="32.79" lengthAdjust="spacingAndGlyphs" >1.24110</text>
<rect x="1626" y="383" width="2" height="1" shape-rendering="crispEdges"/>
<text x="1631.5" y="387" font-family="Liberation Sans, Arial, sans-serif" font-size="10.2" fill="#000" stroke="#000" stroke-width="0.12" textLength="33.47" lengthAdjust="spacingAndGlyphs" >1.23430</text>
<rect x="1626" y="416" width="2" height="1" shape-rendering="crispEdges"/>
<text x="1631.5" y="420" font-family="Liberation Sans, Arial, sans-serif" font-size="10.2" fill="#000" stroke="#000" stroke-width="0.12" textLength="33.47" lengthAdjust="spacingAndGlyphs" >1.22750</text>
<rect x="1626" y="449" width="2" height="1" shape-rendering="crispEdges"/>
<text x="1631.5" y="453" font-family="Liberation Sans, Arial, sans-serif" font-size="10.2" fill="#000" stroke="#000" stroke-width="0.12" textLength="33.47" lengthAdjust="spacingAndGlyphs" >1.22070</text>
<rect x="1626" y="482" width="2" height="1" shape-rendering="crispEdges"/>
<text x="1631.5" y="486" font-family="Liberation Sans, Arial, sans-serif" font-size="10.2" fill="#000" stroke="#000" stroke-width="0.12" textLength="33.47" lengthAdjust="spacingAndGlyphs" >1.21390</text>
<rect x="1626" y="515" width="2" height="1" shape-rendering="crispEdges"/>
<text x="1631.5" y="519" font-family="Liberation Sans, Arial, sans-serif" font-size="10.2" fill="#000" stroke="#000" stroke-width="0.12" textLength="33.47" lengthAdjust="spacingAndGlyphs" >1.20710</text>
<rect x="1626" y="548" width="2" height="1" shape-rendering="crispEdges"/>
<text x="1631.5" y="552" font-family="Liberation Sans, Arial, sans-serif" font-size="10.2" fill="#000" stroke="#000" stroke-width="0.12" textLength="33.47" lengthAdjust="spacingAndGlyphs" >1.20030</text>
<rect x="1626" y="581" width="2" height="1" shape-rendering="crispEdges"/>
<text x="1631.5" y="585" font-family="Liberation Sans, Arial, sans-serif" font-size="10.2" fill="#000" stroke="#000" stroke-width="0.12" textLength="33.47" lengthAdjust="spacingAndGlyphs" >1.19370</text>
<rect x="1626" y="588" width="1" height="1"/>
<text x="1629" y="597" font-family="Liberation Sans, Arial, sans-serif" font-size="10.2" fill="#000" stroke="#000" stroke-width="0.12" textLength="38.50" lengthAdjust="spacingAndGlyphs" >0.017167</text>
<rect x="1626" y="689" width="2" height="1"/>
<text x="1629" y="693" font-family="Liberation Sans, Arial, sans-serif" font-size="10.2" fill="#000" stroke="#000" stroke-width="0.12" textLength="18.60" lengthAdjust="spacingAndGlyphs" >0.00</text>
<rect x="1626" y="768" width="2" height="1"/>
<text x="1629" y="766.5" font-family="Liberation Sans, Arial, sans-serif" font-size="10.2" fill="#000" stroke="#000" stroke-width="0.12" textLength="41.80" lengthAdjust="spacingAndGlyphs" >-0.013348</text>
<rect x="1626" y="773" width="2" height="1"/>
<text x="1629" y="782" font-family="Liberation Sans, Arial, sans-serif" font-size="10.2" fill="#000" stroke="#000" stroke-width="0.12" textLength="15.45" lengthAdjust="spacingAndGlyphs" >100</text>
<rect x="1626" y="804" width="2" height="1"/>
<text x="1629" y="808" font-family="Liberation Sans, Arial, sans-serif" font-size="10.2" fill="#000" stroke="#000" stroke-width="0.12" textLength="10.30" lengthAdjust="spacingAndGlyphs" >80</text>
<rect x="1626" y="851" width="2" height="1"/>
<text x="1629" y="855" font-family="Liberation Sans, Arial, sans-serif" font-size="10.2" fill="#000" stroke="#000" stroke-width="0.12" textLength="10.30" lengthAdjust="spacingAndGlyphs" >50</text>
<rect x="1626" y="907" width="2" height="1"/>
<text x="1629" y="911" font-family="Liberation Sans, Arial, sans-serif" font-size="10.2" fill="#000" stroke="#000" stroke-width="0.12" textLength="10.30" lengthAdjust="spacingAndGlyphs" >15</text>
<text x="1629" y="928" font-family="Liberation Sans, Arial, sans-serif" font-size="10.2" fill="#000" stroke="#000" stroke-width="0.12" textLength="5.15" lengthAdjust="spacingAndGlyphs" >0</text>
</g>
<g shape-rendering="crispEdges">
<rect x="1627" y="44" width="41" height="19" fill="#ff4500"/>
<rect x="1627" y="63" width="41" height="7" fill="#000"/>
<rect x="1627" y="70" width="41" height="11" fill="#32cd32"/>
<rect x="1627" y="81" width="41" height="22" fill="#0000ff"/>
</g>
<svg x="1627" y="63" width="41" height="7"><text x="4.5" y="9" font-family="Liberation Sans, Arial, sans-serif" font-size="10.2" fill="#fff" stroke="#fff" stroke-width="0.12" textLength="33.50" lengthAdjust="spacingAndGlyphs" >1.29918</text></svg>
<g font-family="Liberation Sans, Arial, sans-serif" font-size="10" fill="#fff">
<text x="1631.5" y="53" font-family="Liberation Sans, Arial, sans-serif" font-size="10.2" fill="#fff" stroke="#fff" stroke-width="0.12" textLength="33.50" lengthAdjust="spacingAndGlyphs" >1.30275</text>
<text x="1631.5" y="61.5" font-family="Liberation Sans, Arial, sans-serif" font-size="10.2" fill="#fff" stroke="#fff" stroke-width="0.12" textLength="33.50" lengthAdjust="spacingAndGlyphs" >1.30116</text>
<text x="1631.5" y="79" font-family="Liberation Sans, Arial, sans-serif" font-size="10.2" fill="#fff" stroke="#fff" stroke-width="0.12" textLength="33.50" lengthAdjust="spacingAndGlyphs" >1.29737</text>
<text x="1631.5" y="90" font-family="Liberation Sans, Arial, sans-serif" font-size="10.2" fill="#fff" stroke="#fff" stroke-width="0.12" textLength="33.50" lengthAdjust="spacingAndGlyphs" >1.29518</text>
<text x="1631.5" y="101" font-family="Liberation Sans, Arial, sans-serif" font-size="10.2" fill="#fff" stroke="#fff" stroke-width="0.12" textLength="33.50" lengthAdjust="spacingAndGlyphs" >1.29300</text>
</g>
<g shape-rendering="crispEdges">
<rect x="1390" y="76" width="8" height="1" fill="#ff0000"/>
<rect x="1397.5" y="74.5" width="3" height="3" fill="#fff" stroke="#ff0000" stroke-width="1"/>
<rect x="1400.5" y="60.5" width="99" height="32" fill="#fff" stroke="#ff0000" stroke-width="1"/>
</g>
<text x="1402.5" y="87" font-family="Liberation Sans, Arial, sans-serif" font-size="28.2" fill="#ff0000" stroke="#ff0000" stroke-width="0.3" textLength="95.5" lengthAdjust="spacingAndGlyphs">1.29737</text>
<text x="1425" y="133.5" font-family="Noto Serif CJK SC, Noto Sans CJK SC, serif" font-weight="600" font-size="31" letter-spacing="1" fill="#000000" transform="translate(1,1)">多空转折点</text>
<text x="1425" y="133.5" font-family="Noto Serif CJK SC, Noto Sans CJK SC, serif" font-weight="600" font-size="31" letter-spacing="1" fill="#00ff00">多空转折点</text>
<polygon points="1343,32 1350,32 1346.5,36" fill="#a0a0a0"/>
<g clip-path="url(#cmacd)">
<g shape-rendering="crispEdges" fill="#c0c0c0">
<rect x="5" y="689" width="1" height="57"/>
<rect x="13" y="689" width="1" height="56"/>
<rect x="21" y="689" width="1" height="55"/>
<rect x="29" y="689" width="1" height="55"/>
<rect x="37" y="689" width="1" height="54"/>
<rect x="45" y="689" width="1" height="56"/>
<rect x="53" y="689" width="1" height="58"/>
<rect x="61" y="689" width="1" height="57"/>
<rect x="69" y="689" width="1" height="54"/>
<rect x="77" y="689" width="1" height="51"/>
<rect x="85" y="689" width="1" height="48"/>
<rect x="93" y="689" width="1" height="44"/>
<rect x="101" y="689" width="1" height="40"/>
<rect x="109" y="689" width="1" height="35"/>
<rect x="117" y="689" width="1" height="30"/>
<rect x="125" y="689" width="1" height="29"/>
<rect x="133" y="689" width="1" height="25"/>
<rect x="141" y="689" width="1" height="24"/>
<rect x="149" y="689" width="1" height="24"/>
<rect x="157" y="689" width="1" height="27"/>
<rect x="165" y="689" width="1" height="29"/>
<rect x="173" y="689" width="1" height="33"/>
<rect x="181" y="689" width="1" height="35"/>
<rect x="189" y="689" width="1" height="30"/>
<rect x="197" y="689" width="1" height="26"/>
<rect x="205" y="689" width="1" height="20"/>
<rect x="213" y="689" width="1" height="14"/>
<rect x="221" y="689" width="1" height="10"/>
<rect x="229" y="689" width="1" height="9"/>
<rect x="237" y="689" width="1" height="8"/>
<rect x="245" y="689" width="1" height="8"/>
<rect x="253" y="689" width="1" height="6"/>
<rect x="261" y="689" width="1" height="6"/>
<rect x="269" y="689" width="1" height="8"/>
<rect x="277" y="689" width="1" height="11"/>
<rect x="285" y="689" width="1" height="14"/>
<rect x="293" y="689" width="1" height="17"/>
<rect x="301" y="689" width="1" height="21"/>
<rect x="309" y="689" width="1" height="24"/>
<rect x="317" y="689" width="1" height="27"/>
<rect x="325" y="689" width="1" height="32"/>
<rect x="333" y="689" width="1" height="33"/>
<rect x="341" y="689" width="1" height="32"/>
<rect x="349" y="689" width="1" height="29"/>
<rect x="357" y="689" width="1" height="27"/>
<rect x="365" y="689" width="1" height="27"/>
<rect x="373" y="689" width="1" height="32"/>
<rect x="381" y="689" width="1" height="34"/>
<rect x="389" y="689" width="1" height="30"/>
<rect x="397" y="689" width="1" height="29"/>
<rect x="405" y="689" width="1" height="27"/>
<rect x="413" y="689" width="1" height="27"/>
<rect x="421" y="689" width="1" height="29"/>
<rect x="429" y="689" width="1" height="27"/>
<rect x="437" y="689" width="1" height="27"/>
<rect x="445" y="689" width="1" height="30"/>
<rect x="453" y="689" width="1" height="33"/>
<rect x="461" y="689" width="1" height="42"/>
<rect x="469" y="689" width="1" height="51"/>
<rect x="477" y="689" width="1" height="58"/>
<rect x="485" y="689" width="1" height="64"/>
<rect x="493" y="689" width="1" height="67"/>
<rect x="501" y="689" width="1" height="69"/>
<rect x="509" y="689" width="1" height="69"/>
<rect x="517" y="689" width="1" height="67"/>
<rect x="525" y="689" width="1" height="67"/>
<rect x="533" y="689" width="1" height="65"/>
<rect x="541" y="689" width="1" height="68"/>
<rect x="549" y="689" width="1" height="71"/>
<rect x="557" y="689" width="1" height="70"/>
<rect x="565" y="689" width="1" height="69"/>
<rect x="573" y="689" width="1" height="67"/>
<rect x="581" y="689" width="1" height="64"/>
<rect x="589" y="689" width="1" height="58"/>
<rect x="597" y="689" width="1" height="52"/>
<rect x="605" y="689" width="1" height="48"/>
<rect x="613" y="689" width="1" height="43"/>
<rect x="621" y="689" width="1" height="40"/>
<rect x="629" y="689" width="1" height="31"/>
<rect x="637" y="689" width="1" height="23"/>
<rect x="645" y="689" width="1" height="17"/>
<rect x="653" y="689" width="1" height="14"/>
<rect x="661" y="689" width="1" height="9"/>
<rect x="669" y="689" width="1" height="7"/>
<rect x="677" y="689" width="1" height="8"/>
<rect x="685" y="689" width="1" height="10"/>
<rect x="693" y="689" width="1" height="11"/>
<rect x="701" y="689" width="1" height="16"/>
<rect x="709" y="689" width="1" height="19"/>
<rect x="717" y="689" width="1" height="12"/>
<rect x="725" y="689" width="1" height="5"/>
<rect x="741" y="687" width="1" height="3"/>
<rect x="749" y="681" width="1" height="9"/>
<rect x="757" y="676" width="1" height="14"/>
<rect x="765" y="674" width="1" height="16"/>
<rect x="773" y="672" width="1" height="18"/>
<rect x="781" y="664" width="1" height="26"/>
<rect x="789" y="657" width="1" height="33"/>
<rect x="797" y="655" width="1" height="35"/>
<rect x="805" y="651" width="1" height="39"/>
<rect x="813" y="649" width="1" height="41"/>
<rect x="821" y="646" width="1" height="44"/>
<rect x="829" y="646" width="1" height="44"/>
<rect x="837" y="647" width="1" height="43"/>
<rect x="845" y="651" width="1" height="39"/>
<rect x="853" y="650" width="1" height="40"/>
<rect x="861" y="657" width="1" height="33"/>
<rect x="869" y="664" width="1" height="26"/>
<rect x="877" y="672" width="1" height="18"/>
<rect x="885" y="678" width="1" height="12"/>
<rect x="893" y="683" width="1" height="7"/>
<rect x="901" y="687" width="1" height="3"/>
<rect x="941" y="689" width="1" height="3"/>
<rect x="949" y="689" width="1" height="8"/>
<rect x="957" y="689" width="1" height="13"/>
<rect x="965" y="689" width="1" height="6"/>
<rect x="973" y="679" width="1" height="11"/>
<rect x="981" y="668" width="1" height="22"/>
<rect x="989" y="660" width="1" height="30"/>
<rect x="997" y="648" width="1" height="42"/>
<rect x="1005" y="635" width="1" height="55"/>
<rect x="1013" y="624" width="1" height="66"/>
<rect x="1021" y="612" width="1" height="78"/>
<rect x="1029" y="606" width="1" height="84"/>
<rect x="1037" y="598" width="1" height="92"/>
<rect x="1045" y="598" width="1" height="92"/>
<rect x="1053" y="597" width="1" height="93"/>
<rect x="1061" y="601" width="1" height="89"/>
<rect x="1069" y="605" width="1" height="85"/>
<rect x="1077" y="610" width="1" height="80"/>
<rect x="1085" y="613" width="1" height="77"/>
<rect x="1093" y="616" width="1" height="74"/>
<rect x="1101" y="618" width="1" height="72"/>
<rect x="1109" y="618" width="1" height="72"/>
<rect x="1117" y="619" width="1" height="71"/>
<rect x="1125" y="621" width="1" height="69"/>
<rect x="1133" y="625" width="1" height="65"/>
<rect x="1141" y="630" width="1" height="60"/>
<rect x="1149" y="635" width="1" height="55"/>
<rect x="1157" y="642" width="1" height="48"/>
<rect x="1165" y="649" width="1" height="41"/>
<rect x="1173" y="655" width="1" height="35"/>
<rect x="1181" y="657" width="1" height="33"/>
<rect x="1189" y="659" width="1" height="31"/>
<rect x="1197" y="661" width="1" height="29"/>
<rect x="1205" y="662" width="1" height="28"/>
<rect x="1213" y="661" width="1" height="29"/>
<rect x="1221" y="661" width="1" height="29"/>
<rect x="1229" y="659" width="1" height="31"/>
<rect x="1237" y="659" width="1" height="31"/>
<rect x="1245" y="660" width="1" height="30"/>
<rect x="1253" y="661" width="1" height="29"/>
<rect x="1261" y="666" width="1" height="24"/>
<rect x="1269" y="670" width="1" height="20"/>
<rect x="1277" y="671" width="1" height="19"/>
<rect x="1285" y="673" width="1" height="17"/>
<rect x="1293" y="672" width="1" height="18"/>
<rect x="1301" y="672" width="1" height="18"/>
<rect x="1309" y="672" width="1" height="18"/>
<rect x="1317" y="672" width="1" height="18"/>
<rect x="1325" y="672" width="1" height="18"/>
<rect x="1333" y="669" width="1" height="21"/>
</g>
<polyline points="5.5,725.6 13.5,731.5 21.5,735.5 29.5,738.4 37.5,740.8 45.5,742.2 53.5,744.1 61.5,745.3 69.5,745.3 77.5,745.3 85.5,743.7 93.5,742.0 101.5,740.2 109.5,738.1 117.5,735.7 125.5,732.5 133.5,729.3 141.5,725.7 149.5,722.0 157.5,720.3 165.5,718.8 173.5,718.5 181.5,718.3 189.5,717.9 197.5,717.3 205.5,716.7 213.5,715.6 221.5,714.3 229.5,712.2 237.5,709.4 245.5,707.0 253.5,704.6 261.5,701.4 269.5,699.4 277.5,698.7 285.5,698.8 293.5,699.5 301.5,700.9 309.5,702.2 317.5,704.6 325.5,707.3 333.5,710.0 341.5,712.7 349.5,714.9 357.5,716.3 365.5,717.5 373.5,718.3 381.5,719.3 389.5,720.4 397.5,719.5 405.5,718.9 413.5,718.4 421.5,718.4 429.5,718.4 437.5,718.4 445.5,718.4 453.5,718.5 461.5,719.3 469.5,723.3 477.5,725.4 485.5,729.4 493.5,734.4 501.5,739.1 509.5,742.9 517.5,746.7 525.5,750.7 533.5,753.0 541.5,755.1 549.5,757.0 557.5,757.1 565.5,757.2 573.5,757.2 581.5,757.0 589.5,755.8 597.5,754.0 605.5,751.9 613.5,749.5 621.5,745.7 629.5,742.3 637.5,737.3 645.5,730.5 653.5,725.6 661.5,720.7 669.5,715.9 677.5,711.4 685.5,707.1 693.5,703.3 701.5,702.3 709.5,701.6 717.5,701.4 725.5,700.6 733.5,699.5 741.5,697.8 749.5,696.0 757.5,694.3 765.5,690.7 773.5,686.5 781.5,681.3 789.5,675.9 797.5,672.2 805.5,668.0 813.5,663.6 821.5,660.5 829.5,656.9 837.5,653.8 845.5,651.2 853.5,649.9 861.5,649.8 869.5,650.7 877.5,653.3 885.5,656.4 893.5,659.8 901.5,664.2 909.5,668.6 917.5,673.0 925.5,677.8 933.5,681.9 941.5,685.5 949.5,688.3 957.5,690.7 965.5,692.0 973.5,690.9 981.5,688.5 989.5,685.3 997.5,681.1 1005.5,675.2 1013.5,668.0 1021.5,657.1 1029.5,646.2 1037.5,636.9 1045.5,628.2 1053.5,619.8 1061.5,613.1 1069.5,606.9 1077.5,605.6 1085.5,603.8 1093.5,604.1 1101.5,605.4 1109.5,608.3 1117.5,611.1 1125.5,613.7 1133.5,615.6 1141.5,618.5 1149.5,621.4 1157.5,623.9 1165.5,628.0 1173.5,632.1 1181.5,636.2 1189.5,640.6 1197.5,645.2 1205.5,649.2 1213.5,653.0 1221.5,655.5 1229.5,656.9 1237.5,658.2 1245.5,659.0 1253.5,659.6 1261.5,660.3 1269.5,661.3 1277.5,662.4 1285.5,663.3 1293.5,665.2 1301.5,666.1 1309.5,667.0 1317.5,669.4 1325.5,670.6 1333.5,670.6" fill="none" stroke="#ff0000" stroke-width="1" stroke-dasharray="3,3" shape-rendering="crispEdges"/>
</g>
<text x="1.5" y="599" font-family="Liberation Sans, Arial, sans-serif" font-size="10.2" fill="#000" stroke="#000" stroke-width="0.12" textLength="148.00" lengthAdjust="spacingAndGlyphs" >MACD(12,26,9) 0.003572 0.003182</text>
<g clip-path="url(#crsi)">
<g shape-rendering="crispEdges" fill="#c0c0c0">
<line x1="0" y1="804.5" x2="1625" y2="804.5" stroke="#c0c0c0" stroke-width="1" stroke-dasharray="3,3" stroke-dashoffset="2"/>
<line x1="0" y1="851.5" x2="1625" y2="851.5" stroke="#c0c0c0" stroke-width="1" stroke-dasharray="3,3" stroke-dashoffset="2"/>
<line x1="0" y1="907.5" x2="1625" y2="907.5" stroke="#c0c0c0" stroke-width="1" stroke-dasharray="3,3" stroke-dashoffset="2"/>
</g>
<polyline points="-2.5,894.2 5.5,894.2 13.5,881.1 21.5,879.1 29.5,882.8 37.5,886.5 45.5,889.2 53.5,891.2 61.5,883.3 69.5,882.3 77.5,876.1 85.5,865.2 93.5,868.6 101.5,866.6 109.5,855.5 117.5,858.9 125.5,865.2 133.5,857.7 141.5,863.2 149.5,865.2 157.5,879.5 165.5,876.4 173.5,883.3 181.5,877.8 189.5,858.9 197.5,849.3 205.5,845.1 213.5,843.4 221.5,845.1 229.5,854.7 237.5,853.5 245.5,857.2 253.5,851.3 261.5,853.2 269.5,861.9 277.5,868.9 285.5,871.1 293.5,871.4 301.5,879.1 309.5,879.5 317.5,880.6 325.5,887.0 333.5,874.4 341.5,871.1 349.5,859.7 357.5,859.7 365.5,868.9 373.5,881.5 381.5,876.6 389.5,856.5 397.5,862.2 405.5,860.5 413.5,864.9 421.5,869.4 429.5,861.0 437.5,864.7 445.5,873.3 453.5,874.4 461.5,887.0 469.5,891.2 477.5,891.5 485.5,893.4 493.5,886.5 501.5,887.5 509.5,886.5 517.5,883.6 525.5,885.3 533.5,885.3 541.5,892.3 549.5,895.4 557.5,882.3 565.5,883.2 573.5,884.2 581.5,876.2 589.5,864.4 597.5,863.3 605.5,866.9 613.5,860.6 621.5,864.8 629.5,845.2 637.5,840.5 645.5,845.2 653.5,851.0 661.5,843.5 669.5,852.2 677.5,856.9 685.5,861.1 693.5,860.2 701.5,871.1 709.5,866.9 717.5,845.2 725.5,837.3 733.5,842.2 741.5,843.5 749.5,836.3 757.5,835.5 765.5,839.3 773.5,840.5 781.5,825.9 789.5,823.4 797.5,835.5 805.5,828.8 813.5,833.1 821.5,828.8 829.5,835.2 837.5,836.5 845.5,841.0 853.5,836.5 861.5,851.9 869.5,856.1 877.5,860.3 885.5,860.3 893.5,860.3 901.5,860.3 909.5,858.3 917.5,852.8 925.5,853.6 933.5,853.6 941.5,860.3 949.5,870.3 957.5,871.5 965.5,838.5 973.5,821.8 981.5,826.0 989.5,828.5 997.5,818.8 1005.5,815.9 1013.5,813.4 1021.5,809.5 1029.5,815.4 1037.5,812.6 1045.5,823.4 1053.5,821.4 1061.5,831.3 1069.5,833.2 1077.5,833.5 1085.5,830.6 1093.5,830.5 1101.5,827.6 1109.5,824.6 1117.5,824.6 1125.5,824.6 1133.5,833.2 1141.5,834.7 1149.5,839.7 1157.5,845.2 1165.5,849.9 1173.5,849.4 1181.5,840.5 1189.5,841.5 1197.5,840.2 1205.5,836.5 1213.5,833.8 1221.5,831.8 1229.5,827.3 1237.5,832.3 1245.5,833.5 1253.5,834.3 1261.5,853.9 1269.5,849.9 1277.5,842.4 1285.5,849.1 1293.5,838.5 1301.5,842.2 1309.5,838.5 1317.5,843.2 1325.5,839.4 1333.5,831.8" fill="none" stroke="#1e90ff" stroke-width="1" shape-rendering="crispEdges"/>
</g>
<text x="1" y="784" font-family="Liberation Sans, Arial, sans-serif" font-size="10.2" fill="#000" stroke="#000" stroke-width="0.12" textLength="68.50" lengthAdjust="spacingAndGlyphs" >RSI(14) 63.0253</text>
<g font-family="Liberation Sans, Arial, sans-serif" font-size="10" fill="#000">
<text x="-3.5" y="944" font-family="Liberation Sans, Arial, sans-serif" font-size="10.2" fill="#000" stroke="#000" stroke-width="0.12" textLength="56.02" lengthAdjust="spacingAndGlyphs" >22 May 2019</text>
<rect x="61" y="932" width="1" height="3" shape-rendering="crispEdges"/>
<text x="60" y="944" font-family="Liberation Sans, Arial, sans-serif" font-size="10.2" fill="#000" stroke="#000" stroke-width="0.12" textLength="56.02" lengthAdjust="spacingAndGlyphs" >31 May 2019</text>
<rect x="125" y="932" width="1" height="3" shape-rendering="crispEdges"/>
<text x="124" y="944" font-family="Liberation Sans, Arial, sans-serif" font-size="10.2" fill="#000" stroke="#000" stroke-width="0.12" textLength="53.34" lengthAdjust="spacingAndGlyphs" >10 Jun 2019</text>
<rect x="189" y="932" width="1" height="3" shape-rendering="crispEdges"/>
<text x="188" y="944" font-family="Liberation Sans, Arial, sans-serif" font-size="10.2" fill="#000" stroke="#000" stroke-width="0.12" textLength="53.34" lengthAdjust="spacingAndGlyphs" >19 Jun 2019</text>
<rect x="253" y="932" width="1" height="3" shape-rendering="crispEdges"/>
<text x="252" y="944" font-family="Liberation Sans, Arial, sans-serif" font-size="10.2" fill="#000" stroke="#000" stroke-width="0.12" textLength="53.34" lengthAdjust="spacingAndGlyphs" >28 Jun 2019</text>
<rect x="317" y="932" width="1" height="3" shape-rendering="crispEdges"/>
<text x="316" y="944" font-family="Liberation Sans, Arial, sans-serif" font-size="10.2" fill="#000" stroke="#000" stroke-width="0.12" textLength="44.71" lengthAdjust="spacingAndGlyphs" >8 Jul 2019</text>
<rect x="381" y="932" width="1" height="3" shape-rendering="crispEdges"/>
<text x="380" y="944" font-family="Liberation Sans, Arial, sans-serif" font-size="10.2" fill="#000" stroke="#000" stroke-width="0.12" textLength="50.10" lengthAdjust="spacingAndGlyphs" >17 Jul 2019</text>
<rect x="445" y="932" width="1" height="3" shape-rendering="crispEdges"/>
<text x="444" y="944" font-family="Liberation Sans, Arial, sans-serif" font-size="10.2" fill="#000" stroke="#000" stroke-width="0.12" textLength="50.10" lengthAdjust="spacingAndGlyphs" >26 Jul 2019</text>
<rect x="509" y="932" width="1" height="3" shape-rendering="crispEdges"/>
<text x="508" y="944" font-family="Liberation Sans, Arial, sans-serif" font-size="10.2" fill="#000" stroke="#000" stroke-width="0.12" textLength="49.03" lengthAdjust="spacingAndGlyphs" >5 Aug 2019</text>
<rect x="573" y="932" width="1" height="3" shape-rendering="crispEdges"/>
<text x="572" y="944" font-family="Liberation Sans, Arial, sans-serif" font-size="10.2" fill="#000" stroke="#000" stroke-width="0.12" textLength="54.42" lengthAdjust="spacingAndGlyphs" >14 Aug 2019</text>
<rect x="637" y="932" width="1" height="3" shape-rendering="crispEdges"/>
<text x="636" y="944" font-family="Liberation Sans, Arial, sans-serif" font-size="10.2" fill="#000" stroke="#000" stroke-width="0.12" textLength="54.42" lengthAdjust="spacingAndGlyphs" >23 Aug 2019</text>
<rect x="701" y="932" width="1" height="3" shape-rendering="crispEdges"/>
<text x="700" y="944" font-family="Liberation Sans, Arial, sans-serif" font-size="10.2" fill="#000" stroke="#000" stroke-width="0.12" textLength="49.57" lengthAdjust="spacingAndGlyphs" >2 Sep 2019</text>
<rect x="765" y="932" width="1" height="3" shape-rendering="crispEdges"/>
<text x="764" y="944" font-family="Liberation Sans, Arial, sans-serif" font-size="10.2" fill="#000" stroke="#000" stroke-width="0.12" textLength="54.24" lengthAdjust="spacingAndGlyphs" >11 Sep 2019</text>
<rect x="829" y="932" width="1" height="3" shape-rendering="crispEdges"/>
<text x="828" y="944" font-family="Liberation Sans, Arial, sans-serif" font-size="10.2" fill="#000" stroke="#000" stroke-width="0.12" textLength="54.96" lengthAdjust="spacingAndGlyphs" >20 Sep 2019</text>
<rect x="893" y="932" width="1" height="3" shape-rendering="crispEdges"/>
<text x="892" y="944" font-family="Liberation Sans, Arial, sans-serif" font-size="10.2" fill="#000" stroke="#000" stroke-width="0.12" textLength="54.96" lengthAdjust="spacingAndGlyphs" >30 Sep 2019</text>
<rect x="957" y="932" width="1" height="3" shape-rendering="crispEdges"/>
<text x="956" y="944" font-family="Liberation Sans, Arial, sans-serif" font-size="10.2" fill="#000" stroke="#000" stroke-width="0.12" textLength="47.40" lengthAdjust="spacingAndGlyphs" >9 Oct 2019</text>
<rect x="1021" y="932" width="1" height="3" shape-rendering="crispEdges"/>
<text x="1020" y="944" font-family="Liberation Sans, Arial, sans-serif" font-size="10.2" fill="#000" stroke="#000" stroke-width="0.12" textLength="52.79" lengthAdjust="spacingAndGlyphs" >18 Oct 2019</text>
<rect x="1085" y="932" width="1" height="3" shape-rendering="crispEdges"/>
<text x="1084" y="944" font-family="Liberation Sans, Arial, sans-serif" font-size="10.2" fill="#000" stroke="#000" stroke-width="0.12" textLength="52.79" lengthAdjust="spacingAndGlyphs" >28 Oct 2019</text>
<rect x="1149" y="932" width="1" height="3" shape-rendering="crispEdges"/>
<text x="1148" y="944" font-family="Liberation Sans, Arial, sans-serif" font-size="10.2" fill="#000" stroke="#000" stroke-width="0.12" textLength="49.56" lengthAdjust="spacingAndGlyphs" >6 Nov 2019</text>
<rect x="1213" y="932" width="1" height="3" shape-rendering="crispEdges"/>
<text x="1212" y="944" font-family="Liberation Sans, Arial, sans-serif" font-size="10.2" fill="#000" stroke="#000" stroke-width="0.12" textLength="54.95" lengthAdjust="spacingAndGlyphs" >15 Nov 2019</text>
<rect x="1277" y="932" width="1" height="3" shape-rendering="crispEdges"/>
<text x="1276" y="944" font-family="Liberation Sans, Arial, sans-serif" font-size="10.2" fill="#000" stroke="#000" stroke-width="0.12" textLength="54.95" lengthAdjust="spacingAndGlyphs" >25 Nov 2019</text>
</g>
<rect x="0" y="952" width="1672" height="1" fill="#f0f0f0"/>
<rect x="1671" y="29" width="1" height="924" fill="#f0f0f0"/>
<text x="12" y="43" font-family="Liberation Sans, Arial, sans-serif" font-size="10.2" fill="#000" stroke="#000" stroke-width="0.12" textLength="67.20" lengthAdjust="spacingAndGlyphs" >GBPUSD-,Daily</text>
<text x="85.5" y="43" font-family="Liberation Sans, Arial, sans-serif" font-size="10.2" fill="#000" stroke="#000" stroke-width="0.12" textLength="141.50" lengthAdjust="spacingAndGlyphs" >1.29383 1.30100 1.29293 1.29918</text>
<polygon points="0,42.2 7,42.2 3.5,38" fill="#000"/>
<rect x="0" y="47" width="2" height="2" fill="#ff4500"/>
<defs><linearGradient id="gbtn" x1="0" y1="0" x2="0" y2="1"><stop offset="0" stop-color="#5656ff"/><stop offset="1" stop-color="#3c3ce8"/></linearGradient><linearGradient id="gprice" x1="0" y1="0" x2="0" y2="1"><stop offset="0" stop-color="#3535e2"/><stop offset="0.5" stop-color="#1c1ccc"/><stop offset="1" stop-color="#0000b4"/></linearGradient></defs>
<rect x="0" y="49" width="221" height="67" fill="#fff"/>
<g shape-rendering="crispEdges">
<rect x="0" y="51" width="52" height="25" fill="#0000a0"/>
<rect x="0" y="75" width="109" height="40" fill="#0000a0"/>
<rect x="1" y="52" width="50" height="23" fill="url(#gbtn)"/>
<rect x="1" y="75" width="107" height="39" fill="url(#gprice)"/>
<rect x="4" y="74" width="45" height="1" fill="#2020b0"/><rect x="4" y="75" width="45" height="1" fill="#8c8cff"/>
<rect x="167" y="51" width="52" height="25" fill="#0000a0"/>
<rect x="111" y="75" width="108" height="40" fill="#0000a0"/>
<rect x="168" y="52" width="50" height="23" fill="url(#gbtn)"/>
<rect x="112" y="75" width="106" height="39" fill="url(#gprice)"/>
<rect x="171" y="74" width="45" height="1" fill="#2020b0"/><rect x="171" y="75" width="45" height="1" fill="#8c8cff"/>
<rect x="54" y="51" width="111" height="22" fill="#a0a0a0"/>
<rect x="55" y="52" width="20" height="20" fill="#e8e8e8"/>
<rect x="76" y="52" width="67" height="20" fill="#fff"/>
<rect x="144" y="52" width="20" height="20" fill="#e8e8e8"/>
</g>
<polygon points="62,60 67,60 64.5,63" fill="#000"/>
<polygon points="151,63 156,63 153.5,60" fill="#000"/>
<text x="117" y="66" font-family="Liberation Sans, Arial, sans-serif" font-size="12.5" fill="#000" textLength="22" lengthAdjust="spacingAndGlyphs">1.00</text>
<text x="13" y="67" font-family="Liberation Sans, Arial, sans-serif" font-size="12" fill="#fff" textLength="25" lengthAdjust="spacingAndGlyphs">SELL</text>
<text x="181" y="67" font-family="Liberation Sans, Arial, sans-serif" font-size="12" fill="#fff" textLength="23" lengthAdjust="spacingAndGlyphs">BUY</text>
<text x="21" y="106" font-family="Liberation Sans, Arial, sans-serif" font-size="12.5" font-weight="bold" fill="#fff" textLength="23" lengthAdjust="spacingAndGlyphs">1.29</text>
<text x="48" y="106" font-family="Liberation Sans, Arial, sans-serif" font-size="35.5" fill="#fff" textLength="30.3" lengthAdjust="spacingAndGlyphs">91</text>
<text x="87" y="90" font-family="Liberation Sans, Arial, sans-serif" font-size="12" font-weight="bold" fill="#fff">8</text>
<text x="131" y="106" font-family="Liberation Sans, Arial, sans-serif" font-size="12.5" font-weight="bold" fill="#fff" textLength="23" lengthAdjust="spacingAndGlyphs">1.29</text>
<text x="159.5" y="106" font-family="Liberation Sans, Arial, sans-serif" font-size="35.5" fill="#fff" textLength="32.5" lengthAdjust="spacingAndGlyphs">97</text>
<text x="198" y="90" font-family="Liberation Sans, Arial, sans-serif" font-size="12" font-weight="bold" fill="#fff">4</text>
<g shape-rendering="crispEdges">
<rect x="0" y="0" width="1672" height="29" fill="#f0f0f0"/>
<rect x="0" y="0" width="1672" height="1" fill="#a0a0a0"/>
<rect x="0" y="1" width="1672" height="1" fill="#ffffff"/>
<rect x="0" y="27" width="1672" height="1" fill="#a0a0a0"/>
<rect x="0" y="28" width="1672" height="1" fill="#d0d0d0"/>
<rect x="0" y="29" width="1672" height="2" fill="#ffffff"/>
<rect x="222" y="3" width="1" height="23" fill="#a0a0a0"/><rect x="223" y="3" width="1" height="23" fill="#fff"/>
<rect x="317" y="3" width="1" height="23" fill="#a0a0a0"/><rect x="318" y="3" width="1" height="23" fill="#fff"/>
<rect x="407" y="3" width="1" height="23" fill="#a0a0a0"/><rect x="408" y="3" width="1" height="23" fill="#fff"/>
<rect x="469" y="3" width="1" height="23" fill="#a0a0a0"/><rect x="470" y="3" width="1" height="23" fill="#fff"/>
<rect x="590" y="3" width="1" height="23" fill="#a0a0a0"/><rect x="591" y="3" width="1" height="23" fill="#fff"/>
<rect x="657" y="3" width="1" height="23" fill="#a0a0a0"/><rect x="658" y="3" width="1" height="23" fill="#fff"/>
<rect x="896" y="3" width="1" height="23" fill="#a0a0a0"/><rect x="897" y="3" width="1" height="23" fill="#fff"/>
<rect x="1157" y="3" width="1" height="23" fill="#a0a0a0"/><rect x="1158" y="3" width="1" height="23" fill="#fff"/>
<rect x="226" y="5" width="3" height="1" fill="#a8a8a8"/>
<rect x="226" y="7" width="3" height="1" fill="#a8a8a8"/>
<rect x="226" y="9" width="3" height="1" fill="#a8a8a8"/>
<rect x="226" y="11" width="3" height="1" fill="#a8a8a8"/>
<rect x="226" y="13" width="3" height="1" fill="#a8a8a8"/>
<rect x="226" y="15" width="3" height="1" fill="#a8a8a8"/>
<rect x="226" y="17" width="3" height="1" fill="#a8a8a8"/>
<rect x="226" y="19" width="3" height="1" fill="#a8a8a8"/>
<rect x="226" y="21" width="3" height="1" fill="#a8a8a8"/>
<rect x="226" y="23" width="3" height="1" fill="#a8a8a8"/>
<rect x="595" y="5" width="3" height="1" fill="#a8a8a8"/>
<rect x="595" y="7" width="3" height="1" fill="#a8a8a8"/>
<rect x="595" y="9" width="3" height="1" fill="#a8a8a8"/>
<rect x="595" y="11" width="3" height="1" fill="#a8a8a8"/>
<rect x="595" y="13" width="3" height="1" fill="#a8a8a8"/>
<rect x="595" y="15" width="3" height="1" fill="#a8a8a8"/>
<rect x="595" y="17" width="3" height="1" fill="#a8a8a8"/>
<rect x="595" y="19" width="3" height="1" fill="#a8a8a8"/>
<rect x="595" y="21" width="3" height="1" fill="#a8a8a8"/>
<rect x="595" y="23" width="3" height="1" fill="#a8a8a8"/>
<rect x="900" y="5" width="3" height="1" fill="#a8a8a8"/>
<rect x="900" y="7" width="3" height="1" fill="#a8a8a8"/>
<rect x="900" y="9" width="3" height="1" fill="#a8a8a8"/>
<rect x="900" y="11" width="3" height="1" fill="#a8a8a8"/>
<rect x="900" y="13" width="3" height="1" fill="#a8a8a8"/>
<rect x="900" y="15" width="3" height="1" fill="#a8a8a8"/>
<rect x="900" y="17" width="3" height="1" fill="#a8a8a8"/>
<rect x="900" y="19" width="3" height="1" fill="#a8a8a8"/>
<rect x="900" y="21" width="3" height="1" fill="#a8a8a8"/>
<rect x="900" y="23" width="3" height="1" fill="#a8a8a8"/>
<rect x="260" y="3" width="25" height="22" fill="url(#chk)"/>
<rect x="260" y="3" width="25" height="1" fill="#a0a0a0"/><rect x="260" y="3" width="1" height="22" fill="#a0a0a0"/>
<rect x="260" y="25" width="25" height="1" fill="#fff"/><rect x="284" y="3" width="1" height="23" fill="#fff"/>
<rect x="412" y="3" width="25" height="22" fill="url(#chk)"/>
<rect x="412" y="3" width="25" height="1" fill="#a0a0a0"/><rect x="412" y="3" width="1" height="22" fill="#a0a0a0"/>
<rect x="412" y="25" width="25" height="1" fill="#fff"/><rect x="436" y="3" width="1" height="23" fill="#fff"/>
<rect x="440" y="3" width="25" height="22" fill="url(#chk)"/>
<rect x="440" y="3" width="25" height="1" fill="#a0a0a0"/><rect x="440" y="3" width="1" height="22" fill="#a0a0a0"/>
<rect x="440" y="25" width="25" height="1" fill="#fff"/><rect x="464" y="3" width="1" height="23" fill="#fff"/>
<rect x="601" y="3" width="25" height="22" fill="url(#chk)"/>
<rect x="601" y="3" width="25" height="1" fill="#a0a0a0"/><rect x="601" y="3" width="1" height="22" fill="#a0a0a0"/>
<rect x="601" y="25" width="25" height="1" fill="#fff"/><rect x="625" y="3" width="1" height="23" fill="#fff"/>
<rect x="1074" y="3" width="26" height="22" fill="url(#chk)"/>
<rect x="1074" y="3" width="26" height="1" fill="#a0a0a0"/><rect x="1074" y="3" width="1" height="22" fill="#a0a0a0"/>
<rect x="1074" y="25" width="26" height="1" fill="#fff"/><rect x="1099" y="3" width="1" height="23" fill="#fff"/>
</g>
<text x="911" y="19" font-family="Liberation Sans, Arial, sans-serif" font-size="11" fill="#202020" textLength="13.4" lengthAdjust="spacingAndGlyphs">M1</text>
<text x="939" y="19" font-family="Liberation Sans, Arial, sans-serif" font-size="11" fill="#202020" textLength="13.5" lengthAdjust="spacingAndGlyphs">M5</text>
<text x="965" y="19" font-family="Liberation Sans, Arial, sans-serif" font-size="11" fill="#202020" textLength="18.4" lengthAdjust="spacingAndGlyphs">M15</text>
<text x="993" y="19" font-family="Liberation Sans, Arial, sans-serif" font-size="11" fill="#202020" textLength="18.4" lengthAdjust="spacingAndGlyphs">M30</text>
<text x="1024" y="19" font-family="Liberation Sans, Arial, sans-serif" font-size="11" fill="#202020" textLength="12.6" lengthAdjust="spacingAndGlyphs">H1</text>
<text x="1051.5" y="19" font-family="Liberation Sans, Arial, sans-serif" font-size="11" fill="#202020" textLength="12.8" lengthAdjust="spacingAndGlyphs">H4</text>
<text x="1080.5" y="19" font-family="Liberation Sans, Arial, sans-serif" font-size="11" fill="#202020" textLength="12.1" lengthAdjust="spacingAndGlyphs">D1</text>
<text x="1107.4" y="19" font-family="Liberation Sans, Arial, sans-serif" font-size="11" fill="#202020" textLength="15.2" lengthAdjust="spacingAndGlyphs">W1</text>
<text x="1134.4" y="19" font-family="Liberation Sans, Arial, sans-serif" font-size="11" fill="#202020" textLength="15.3" lengthAdjust="spacingAndGlyphs">MN</text>
<text x="15" y="18" font-family="Noto Sans CJK SC, WenQuanYi Zen Hei, sans-serif" font-size="12" fill="#000">新订单</text>
<text x="167" y="18" font-family="Noto Sans CJK SC, WenQuanYi Zen Hei, sans-serif" font-size="12" fill="#000">自动交易</text>

<defs>
<linearGradient id="gplus" x1="0" y1="0" x2="0" y2="1"><stop offset="0" stop-color="#7dff7d"/><stop offset="1" stop-color="#10c010"/></linearGradient>
<linearGradient id="ggold" x1="0" y1="0" x2="1" y2="1"><stop offset="0" stop-color="#fff0a0"/><stop offset="0.5" stop-color="#e8b810"/><stop offset="1" stop-color="#c08000"/></linearGradient>
<linearGradient id="gcloud" x1="0" y1="0" x2="0" y2="1"><stop offset="0" stop-color="#ffffff"/><stop offset="1" stop-color="#b8c4dc"/></linearGradient>
<linearGradient id="gring" x1="0" y1="0" x2="1" y2="0"><stop offset="0" stop-color="#3060d0"/><stop offset="0.5" stop-color="#a0c0d0"/><stop offset="1" stop-color="#30a040"/></linearGradient>
<linearGradient id="gclock" x1="0" y1="0" x2="0" y2="1"><stop offset="0" stop-color="#40a0ff"/><stop offset="1" stop-color="#0848b0"/></linearGradient>
<linearGradient id="gcandle" x1="0" y1="0" x2="1" y2="0"><stop offset="0" stop-color="#20c020"/><stop offset="0.5" stop-color="#a0ffa0"/><stop offset="1" stop-color="#20c020"/></linearGradient>
<pattern id="chk" width="2" height="2" patternUnits="userSpaceOnUse"><rect width="2" height="2" fill="#f4f4f4"/><rect width="1" height="1" fill="#fcfcfc"/><rect x="1" y="1" width="1" height="1" fill="#fcfcfc"/></pattern>
</defs>
<!-- new order -->
<path d="M-3,6.5 h7.5 l3,3 v7 h-10.5z" fill="#fff" stroke="#606060"/><rect x="-2" y="9" width="5" height="1" fill="#707070"/><rect x="-2" y="13" width="5" height="1" fill="#909090"/>
<path d="M4.5,13.5 h3 v3.5 h4 v3 h-4 v4.5 h-3 v-4.5 h-5 v-3 h5z" fill="url(#gplus)" stroke="#08a008" stroke-width="1"/>
<!-- gold book -->
<polygon points="68.5,8 78.5,15.5 71,22.5 63,16.5" fill="url(#ggold)" stroke="#a06000" stroke-width="1"/>
<path d="M63.5,16.5 L71,22 L78,15.5" stroke="#f0d890" stroke-width="1.2" fill="none"/>
<!-- cube cloud -->
<rect x="93.5" y="7.5" width="10" height="9" fill="#1890f0" stroke="#0870d0"/><path d="M94,8 L97,10.5 V16" stroke="#fff" stroke-width="0.8" fill="none"/><rect x="98.5" y="11" width="4" height="1.3" fill="#fff"/>
<path d="M92.5,21.5 q-1.5,-3.5 2.5,-4 q1,-2.5 4.5,-1.5 q2,-2.2 5,-0.2 q3,0.3 2,3.5 q0,2.2 -2.5,2.2 z" fill="url(#gcloud)" stroke="#4a64a0" stroke-width="1"/>
<!-- signal -->
<circle cx="127" cy="14.8" r="7.3" fill="none" stroke="url(#gring)" stroke-width="1.3"/><circle cx="127" cy="14.8" r="4.4" fill="none" stroke="url(#gring)" stroke-width="1.2" opacity="0.8"/>
<circle cx="127" cy="14.8" r="1.7" fill="#2050d0"/><rect x="126.4" y="15" width="1.4" height="7.3" fill="#10a010"/>
<!-- auto trading -->
<path d="M147,13.5 L161.5,13 L156.5,22.5 L153,22.5 Z" fill="#f4dc50" stroke="#c09010" stroke-width="0.8"/>
<ellipse cx="154" cy="11.5" rx="8" ry="2.8" fill="#58b0e0" stroke="#2080b0" stroke-width="0.8"/><ellipse cx="154" cy="9" rx="4" ry="2.8" fill="#78c4f0" stroke="#2080b0" stroke-width="0.8"/>
<circle cx="158.4" cy="18.9" r="4" fill="#e02800" stroke="#a01000" stroke-width="0.8"/><rect x="157" y="17.5" width="3" height="3" fill="#fff"/>
<!-- bar chart icon -->
<g fill="#555"><rect x="239.7" y="10" width="1.3" height="13"/><rect x="237.2" y="20" width="14" height="1.3"/><polygon points="238.1,11.5 242.6,11.5 240.35,8.5"/><polygon points="249.7,18.2 249.7,23.1 252.7,20.65"/></g><g fill="#139013"><rect x="245.8" y="10" width="1.3" height="8.7"/><rect x="245.8" y="10.4" width="3" height="1.3"/><rect x="243.5" y="17" width="2.6" height="1.3"/></g>
<!-- candle icon -->
<g fill="#555"><rect x="267.7" y="10" width="1.3" height="13"/><rect x="265.2" y="20" width="14" height="1.3"/><polygon points="266.09999999999997,11.5 270.59999999999997,11.5 268.34999999999997,8.5"/><polygon points="277.7,18.2 277.7,23.1 280.7,20.65"/></g><rect x="273.9" y="7" width="1.2" height="12" fill="#0a900a"/><rect x="272.3" y="9.3" width="4.4" height="7" fill="url(#gcandle)" stroke="#0a900a" stroke-width="1"/>
<!-- line icon -->
<g fill="#555"><rect x="296.1" y="10" width="1.3" height="13"/><rect x="293.6" y="20" width="14" height="1.3"/><polygon points="294.5,11.5 299.0,11.5 296.75,8.5"/><polygon points="306.1,18.2 306.1,23.1 309.1,20.65"/></g><path d="M295,17.6 Q298,13 301.2,12.3 Q303,12.2 306.7,16" stroke="#30a030" stroke-width="1.2" fill="none"/>
<!-- zoom in/out -->
<g><path d="M335.5,16.5 l5.5,5.5" stroke="#a07810" stroke-width="3.4"/><path d="M335.5,16.5 l5.5,5.5" stroke="#f0d860" stroke-width="1.8"/><circle cx="332" cy="12.9" r="5.4" fill="#dff2ff" stroke="#2f78c8" stroke-width="1.3"/><path d="M329,12.9 h6 M332,9.9 v6" stroke="#3a80b0" stroke-width="1.6"/></g>
<g><path d="M363.5,16.5 l5.5,5.5" stroke="#a07810" stroke-width="3.4"/><path d="M363.5,16.5 l5.5,5.5" stroke="#f0d860" stroke-width="1.8"/><circle cx="360" cy="12.9" r="5.4" fill="#dff2ff" stroke="#2f78c8" stroke-width="1.3"/><path d="M357,12.9 h6" stroke="#3a80b0" stroke-width="1.6"/></g>
<!-- tile -->
<g><rect x="382" y="7" width="8" height="8" fill="#30a020"/><rect x="390" y="7" width="8" height="8" fill="#2258d8"/><rect x="382" y="15" width="8" height="8" fill="#2258d8"/><rect x="390" y="15" width="8" height="8" fill="#30a020"/>
<g fill="#fff"><rect x="383.5" y="11" width="5" height="3"/><rect x="391.5" y="11" width="5" height="3"/><rect x="383.5" y="19" width="5" height="3"/><rect x="391.5" y="19" width="5" height="3"/></g>
<g fill="#a0e090"><rect x="384.5" y="11" width="3" height="0.8"/><rect x="392.5" y="19" width="3" height="0.8"/></g></g>
<!-- autoscroll -->
<g fill="#555"><rect x="419.8" y="10" width="1.3" height="13"/><rect x="417.3" y="20" width="14" height="1.3"/><polygon points="418.2,11.5 422.7,11.5 420.45,8.5"/><polygon points="429.8,18.2 429.8,23.1 432.8,20.65"/></g><polygon points="425.2,11.2 428.8,14.6 425.2,18" fill="#a0f0a0" stroke="#10a010" stroke-width="1"/>
<!-- chart shift -->
<g fill="#555"><rect x="447.8" y="10" width="1.3" height="13"/><rect x="445.3" y="20" width="14" height="1.3"/><polygon points="446.2,11.5 450.7,11.5 448.45,8.5"/><polygon points="457.8,18.2 457.8,23.1 460.8,20.65"/></g><rect x="454" y="9" width="1.2" height="10" fill="#1a70b0"/><polygon points="455.3,14.4 458,12.4 458,13.7 460,13.7 460,15.1 458,15.1 458,16.4" fill="#e04010"/>
<!-- indicators -->
<path d="M479.5,7.5 h7.5 l3,3 v10 h-10.5z" fill="#fff" stroke="#606060"/><text x="481" y="17" font-family="Liberation Serif, serif" font-style="italic" font-size="8" fill="#504030">f</text>
<path d="M487,13.5 h3.2 v3.8 h4.3 v3.2 h-4.3 v4 h-3.2 v-4 h-4 v-3.2 h4z" fill="url(#gplus)" stroke="#08a008" stroke-width="1"/>
<polygon points="501,14 506,14 503.5,17" fill="#000"/>
<!-- clock -->
<circle cx="525" cy="14.5" r="7.6" fill="url(#gclock)"/><circle cx="525" cy="14.5" r="5.3" fill="#f4f8ff"/><path d="M524.5,11 V15 H527.5" stroke="#203040" stroke-width="1.1" fill="none"/>
<polygon points="540,14 545,14 542.5,17" fill="#000"/>
<!-- template -->
<rect x="556.5" y="8.5" width="15.5" height="13" fill="#fff" stroke="#3a70c8"/><rect x="557" y="9" width="15" height="2" fill="#4a88e0"/><rect x="557" y="16" width="15" height="1" fill="#3a70c8"/>
<path d="M558.5,14.3 h2 l1.5,-1 h2 l1.5,-1 h2 l1.5,-1" stroke="#a02010" stroke-width="1" fill="none"/><path d="M558.5,19.5 l2,-1 l2,1 l2,-1.5 l2,-1.5 l2,2.5" stroke="#109010" stroke-width="1" fill="none"/>
<polygon points="579,14 584,14 581.5,17" fill="#000"/>
<!-- cursor -->
<polygon points="608,7.8 608,18.8 610.6,16.3 612.8,21.5 614.3,20.8 612.3,15.8 616,15.3" fill="#4a4a4a"/>
<!-- crosshair -->
<path d="M633,15.5 H639 M641,15.5 H648 M640.5,8 V14 M640.5,17 V23" stroke="#505050" stroke-width="1.1"/>
<!-- vertical / horizontal / trend -->
<rect x="674" y="9" width="1.2" height="13" fill="#505050"/>
<rect x="697" y="14.8" width="12" height="1.2" fill="#505050"/>
<path d="M724.5,22 L737,9.5" stroke="#505050" stroke-width="1.2"/>
<!-- channel E -->
<g stroke="#404040" stroke-width="1" fill="none"><path d="M751,16.5 L759,9 M752.5,21.5 L764,10.5 M753,18 L757,14 M756,17 L760,13 M762.5,7 V13"/></g><text x="761.5" y="24" font-family="Liberation Sans, Arial" font-size="6.5" font-weight="bold" fill="#404040">E</text>
<!-- fib F -->
<g stroke="#404040" stroke-width="1" stroke-dasharray="1,1"><path d="M780,8.5 H793 M780,11.5 H793 M780,15.5 H793 M780,19.5 H789"/></g><text x="789.5" y="24" font-family="Liberation Sans, Arial" font-size="6.5" font-weight="bold" fill="#404040">F</text>
<!-- A -->
<text x="810.5" y="20" font-family="Liberation Sans, Arial" font-size="11" fill="#505050">A</text>
<!-- T box -->
<rect x="837.5" y="9.5" width="11" height="12" fill="none" stroke="#505050" stroke-dasharray="1,1"/><rect x="836" y="8" width="2" height="1.5" fill="#505050"/><text x="838.6" y="19.5" font-family="Liberation Sans, Arial" font-size="10" font-weight="bold" fill="#505050">T</text>
<!-- arrows -->
<g fill="#505050"><polygon points="864,12.8 867.5,9 871,12.8"/><polygon points="871.5,17.8 878,17.8 874.7,21.8"/><path d="M866,16.5 L868.5,18.8 L873,13.5" stroke="#505050" stroke-width="1.1" fill="none"/></g>
<polygon points="885,14 890,14 887.5,17" fill="#000"/>
<!-- search -->
<circle cx="1627.6" cy="12.4" r="3.9" fill="#fff" stroke="#2a64d0" stroke-width="1.3"/><path d="M1624.6,15.4 L1620.6,19.4" stroke="#2a64d0" stroke-width="2.2" stroke-linecap="round"/>
<!-- chat -->
<path d="M1662.5,17 l1.2,2.4 l-0.3,-2.6z" fill="#707070"/><ellipse cx="1660.2" cy="12.2" rx="6.4" ry="4.8" fill="url(#gcloud)" stroke="#8a8a8a"/>
<path d="M1649,19 l-1,2.4 l2.4,-2z" fill="#707070"/><ellipse cx="1651.3" cy="16" rx="5.2" ry="3.9" fill="url(#gcloud)" stroke="#8a8a8a"/>

</svg></body></html>
